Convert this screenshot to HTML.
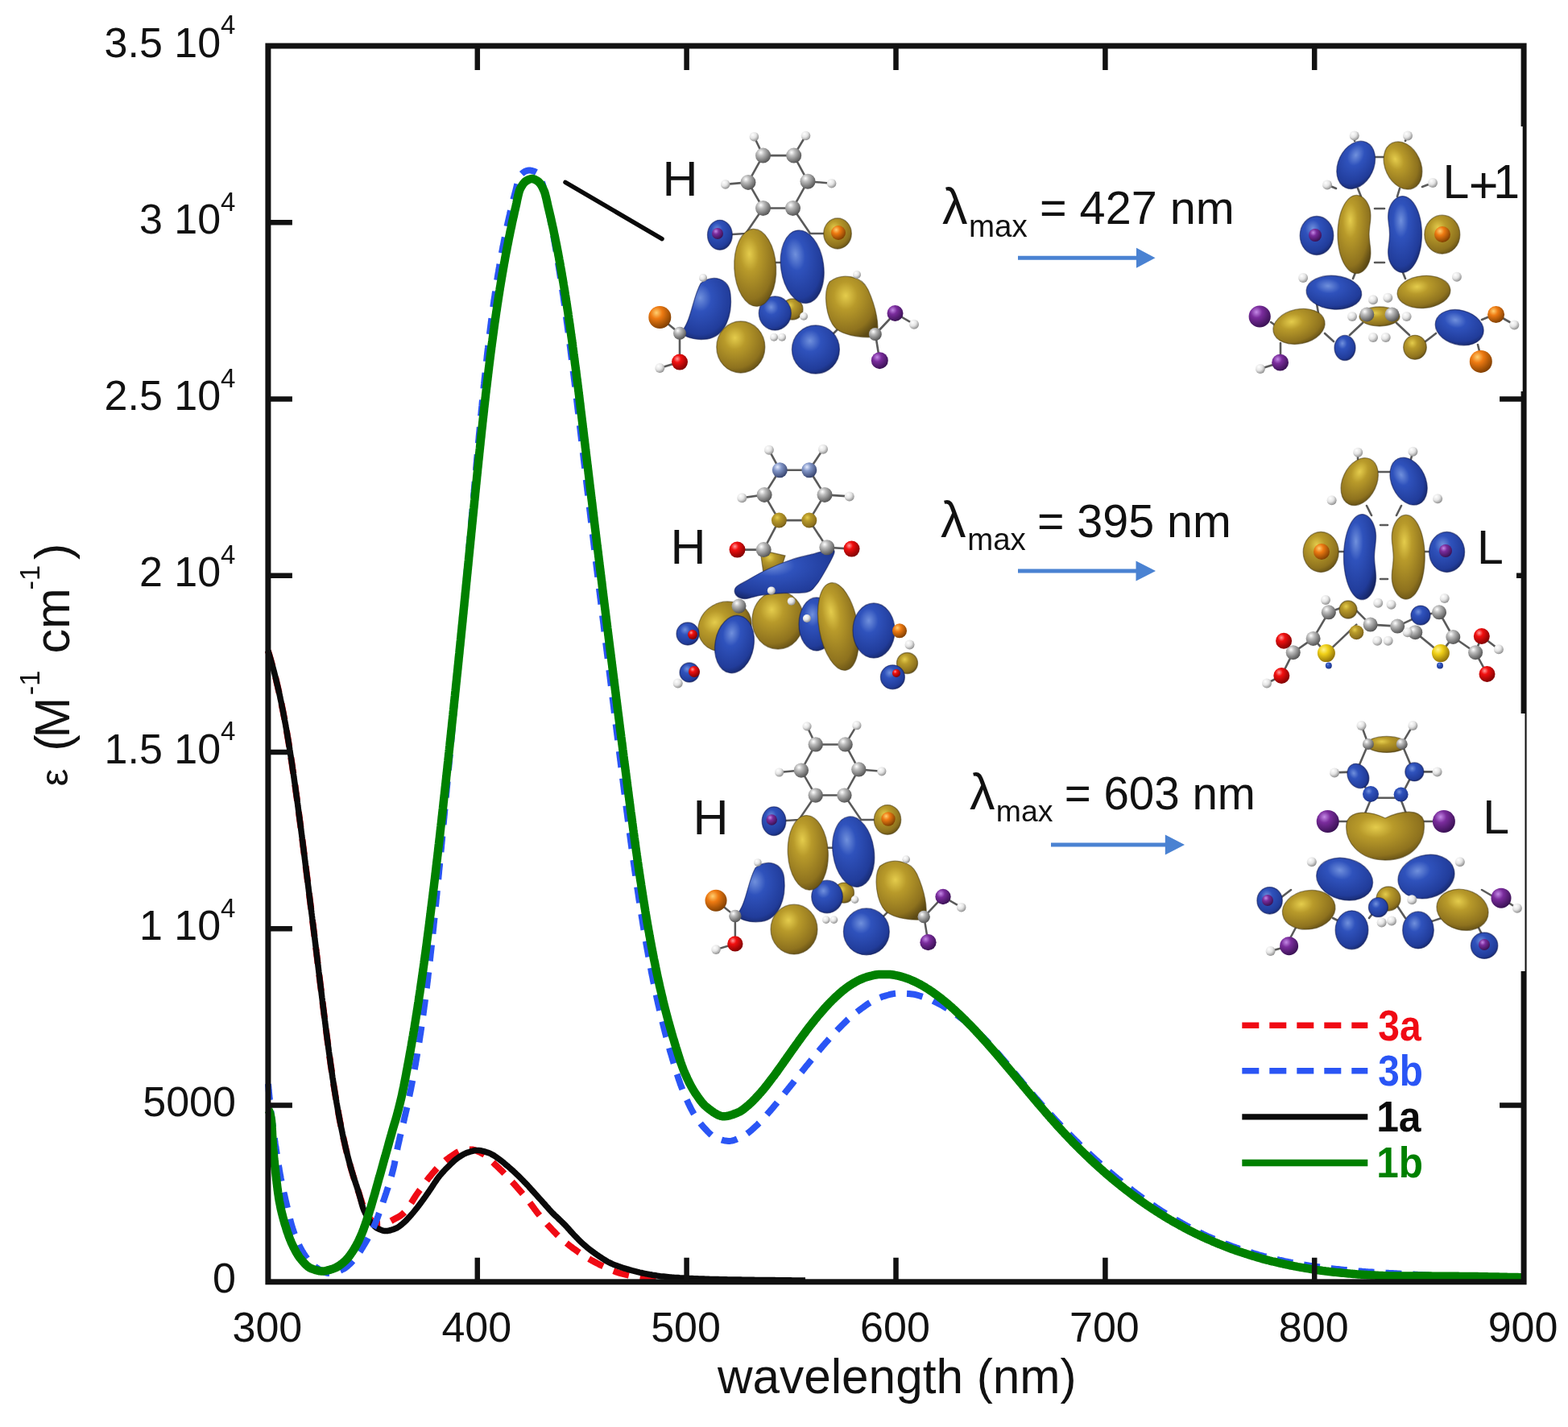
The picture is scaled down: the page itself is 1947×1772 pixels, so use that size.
<!DOCTYPE html>
<html><head><meta charset="utf-8"><title>Absorption spectra</title>
<style>html,body{margin:0;padding:0;background:#fff;overflow:hidden}svg{display:block}</style>
</head><body>
<svg xmlns="http://www.w3.org/2000/svg" width="1947" height="1772" viewBox="0 0 1947 1772"><rect x="0" y="0" width="1947" height="1772" fill="#fff"/>
<path d="M332.8,808.0 L333.4,810.0 L334.1,812.0 L334.7,814.1 L335.2,815.8 L335.8,817.9 L336.3,819.6 L336.9,821.8 L337.4,823.6 L337.9,825.4 L338.4,827.2 L339.1,829.5 L339.6,831.4 L340.1,833.3 L340.6,835.2 L341.1,837.1 L341.6,839.1 L342.1,841.1 L342.6,843.1 L343.1,845.1 L343.4,846.7 L343.9,848.7 L344.4,850.8 L344.8,852.4 L345.3,854.6 L345.8,856.8 L346.2,858.4 L346.7,860.7 L347.1,862.4 L347.6,864.7 L347.9,866.4 L348.3,868.2 L348.8,870.5 L349.2,872.3 L349.6,874.1 L349.9,875.9 L350.4,878.4 L350.8,880.3 L351.2,882.2 L351.6,884.1 L351.9,886.0 L352.3,888.0 L352.7,890.0 L353.1,891.9 L353.4,893.9 L353.8,896.0 L354.2,898.0 L354.6,900.1 L354.8,901.5 L355.2,903.6 L355.6,905.7 L355.9,907.8 L356.2,909.3 L356.6,911.5 L356.9,913.6 L357.3,915.9 L357.6,917.3 L357.9,919.6 L358.2,921.1 L358.6,923.4 L358.9,925.7 L359.2,927.2 L359.6,929.6 L359.8,931.1 L360.2,933.5 L360.4,935.1 L360.8,937.5 L361.1,939.1 L361.4,941.5 L361.7,943.2 L362.1,945.6 L362.3,947.3 L362.6,948.9 L362.9,951.4 L363.2,953.1 L363.4,954.8 L363.8,957.4 L364.1,959.1 L364.3,960.8 L364.7,963.4 L364.9,965.1 L365.2,966.8 L365.4,968.6 L365.8,971.2 L366.1,973.0 L366.3,974.7 L366.6,976.5 L366.9,979.2 L367.2,981.0 L367.4,982.8 L367.7,984.6 L367.9,986.4 L368.3,989.2 L368.6,991.0 L368.8,992.8 L369.1,994.6 L369.3,996.5 L369.6,998.3 L369.9,1001.1 L370.2,1003.0 L370.4,1004.8 L370.7,1006.7 L370.9,1008.6 L371.2,1010.5 L371.4,1012.4 L371.7,1014.2 L371.9,1016.1 L372.3,1019.0 L372.6,1020.9 L372.8,1022.8 L373.1,1024.7 L373.3,1026.6 L373.6,1028.5 L373.8,1030.4 L374.1,1032.4 L374.3,1034.3 L374.6,1036.2 L374.8,1038.1 L375.1,1040.1 L375.3,1042.0 L375.6,1044.0 L375.8,1045.9 L376.1,1047.8 L376.4,1050.8 L376.7,1052.7 L376.9,1054.7 L377.2,1056.6 L377.4,1058.6 L377.7,1060.5 L377.9,1062.5 L378.2,1064.5 L378.4,1066.4 L378.7,1068.4 L378.9,1070.4 L379.2,1072.3 L379.4,1074.3 L379.7,1076.3 L379.9,1078.3 L380.2,1080.2 L380.4,1082.2 L380.7,1084.2 L380.9,1086.2 L381.2,1088.2 L381.4,1090.2 L381.7,1092.1 L381.9,1094.1 L382.2,1096.1 L382.4,1098.1 L382.7,1100.1 L382.9,1102.1 L383.2,1104.1 L383.4,1106.1 L383.7,1108.1 L383.9,1110.1 L384.2,1112.1 L384.4,1114.1 L384.7,1116.1 L384.9,1118.1 L385.2,1120.1 L385.4,1122.1 L385.7,1124.1 L385.9,1126.1 L386.2,1128.1 L386.4,1130.1 L386.7,1132.1 L386.9,1134.1 L387.1,1135.2 L387.3,1137.2 L387.6,1139.2 L387.8,1141.2 L388.1,1143.2 L388.3,1145.2 L388.6,1147.3 L388.8,1149.3 L389.1,1151.3 L389.3,1153.3 L389.6,1155.3 L389.8,1157.4 L390.1,1159.4 L390.3,1161.4 L390.6,1163.4 L390.8,1165.5 L391.1,1167.5 L391.3,1169.5 L391.6,1171.6 L391.8,1173.6 L392.1,1175.6 L392.3,1177.7 L392.6,1179.7 L392.8,1181.7 L393.1,1183.8 L393.2,1184.8 L393.4,1186.8 L393.7,1188.9 L393.9,1190.9 L394.2,1192.9 L394.4,1195.0 L394.7,1197.0 L394.9,1199.0 L395.2,1201.1 L395.4,1203.1 L395.7,1205.2 L395.9,1207.2 L396.2,1209.2 L396.4,1211.3 L396.7,1213.3 L396.9,1215.3 L397.2,1217.4 L397.4,1219.4 L397.7,1221.4 L397.9,1223.5 L398.1,1224.5 L398.3,1226.5 L398.6,1228.5 L398.8,1230.6 L399.1,1232.6 L399.3,1234.6 L399.6,1236.7 L399.8,1238.7 L400.1,1240.7 L400.3,1242.7 L400.6,1244.8 L400.8,1246.8 L401.1,1248.8 L401.3,1250.8 L401.6,1252.8 L401.8,1254.8 L402.1,1256.8 L402.3,1258.8 L402.6,1260.8 L402.8,1262.7 L403.1,1264.7 L403.3,1266.7 L403.6,1268.7 L403.8,1270.7 L404.1,1272.6 L404.3,1274.6 L404.6,1276.6 L404.8,1278.5 L405.1,1280.5 L405.3,1282.4 L405.6,1284.3 L405.8,1286.3 L406.1,1288.2 L406.3,1290.1 L406.6,1292.0 L406.9,1294.8 L407.2,1296.7 L407.4,1298.6 L407.7,1300.4 L407.9,1302.3 L408.2,1304.2 L408.4,1306.0 L408.7,1307.9 L409.1,1310.6 L409.3,1312.5 L409.6,1314.3 L409.8,1316.1 L410.1,1317.9 L410.4,1320.6 L410.7,1322.3 L410.9,1324.1 L411.2,1325.8 L411.6,1328.4 L411.8,1330.1 L412.1,1331.8 L412.4,1334.4 L412.7,1336.1 L412.9,1337.8 L413.3,1340.3 L413.6,1341.9 L413.8,1343.6 L414.2,1346.0 L414.4,1347.6 L414.8,1350.1 L415.1,1351.7 L415.4,1354.0 L415.7,1355.6 L416.1,1357.9 L416.3,1359.4 L416.7,1361.7 L416.9,1363.2 L417.3,1365.4 L417.7,1367.7 L417.9,1369.1 L418.3,1371.3 L418.7,1373.5 L419.1,1375.6 L419.3,1377.0 L419.7,1379.1 L420.1,1381.2 L420.4,1383.2 L420.8,1385.3 L421.2,1387.3 L421.5,1389.3 L421.9,1391.2 L422.3,1393.2 L422.7,1395.1 L423.0,1397.0 L423.4,1398.9 L423.8,1400.7 L424.2,1402.6 L424.7,1405.0 L425.0,1406.7 L425.4,1408.5 L425.9,1410.8 L426.3,1412.5 L426.8,1414.8 L427.2,1416.5 L427.7,1418.7 L428.0,1420.3 L428.5,1422.5 L428.9,1424.1 L429.4,1426.2 L429.9,1428.3 L430.4,1430.3 L430.8,1431.8 L431.3,1433.8 L431.8,1435.8 L432.3,1437.7 L432.8,1439.6 L433.3,1441.5 L433.9,1443.8 L434.4,1445.7 L434.9,1447.5 L435.4,1449.3 L436.0,1451.5 L436.5,1453.2 L437.2,1455.3 L437.7,1457.0 L438.3,1459.1 L438.8,1460.7 L439.4,1462.7 L440.0,1464.7 L440.7,1466.6 L441.3,1468.5 L441.9,1470.4 L442.5,1472.3 L443.2,1474.1 L443.8,1476.0 L444.4,1477.8 L445.0,1479.7 L445.7,1481.6 L446.3,1483.6 L446.9,1485.5 L447.5,1487.5 L448.2,1489.5 L448.8,1491.5 L449.4,1493.4 L450.0,1495.2 L450.7,1496.9 L451.4,1498.9 L452.2,1500.6 L453.0,1502.6 L453.8,1504.2 L454.7,1506.0 L455.5,1507.8 L456.5,1509.6 L457.7,1511.3 L458.8,1512.8 L460.2,1514.2 L461.7,1515.8 L463.0,1517.1 L464.7,1518.3 L466.4,1519.2 L468.4,1519.5 L470.4,1519.5 L472.4,1519.4 L474.4,1519.3 L476.4,1519.1 L478.3,1519.0 L480.3,1518.5 L482.2,1517.9 L484.0,1517.0 L485.8,1516.0 L487.5,1515.0 L489.3,1514.0 L491.0,1513.1 L492.8,1512.2 L494.5,1511.2 L496.3,1510.2 L497.9,1509.1 L499.5,1507.9 L501.0,1506.6 L502.4,1505.2 L503.8,1503.6 L505.0,1502.0 L506.2,1500.5 L507.3,1498.9 L508.4,1497.2 L509.5,1495.5 L510.7,1493.7 L511.7,1492.1 L512.8,1490.3 L513.8,1488.7 L514.9,1487.0 L515.9,1485.4 L517.0,1483.7 L518.2,1482.0 L519.3,1480.5 L520.5,1478.7 L521.7,1477.2 L522.9,1475.4 L524.0,1473.9 L525.2,1472.3 L526.4,1470.6 L527.5,1469.1 L528.8,1467.4 L529.9,1465.9 L531.2,1464.3 L532.4,1462.7 L533.7,1461.2 L534.9,1459.7 L536.3,1458.0 L537.5,1456.5 L538.8,1455.1 L540.2,1453.5 L541.4,1452.1 L542.8,1450.6 L544.2,1449.2 L545.7,1447.7 L547.0,1446.4 L548.5,1445.0 L550.0,1443.7 L551.5,1442.4 L553.0,1441.1 L554.7,1439.8 L556.3,1438.6 L557.9,1437.4 L559.5,1436.3 L561.2,1435.2 L562.8,1434.1 L564.5,1432.9 L566.2,1431.8 L567.9,1430.8 L569.7,1429.9 L571.4,1429.1 L573.4,1428.6 L575.4,1428.3 L577.3,1428.0 L579.3,1427.7 L581.3,1427.5 L583.3,1427.4 L585.3,1427.4 L587.3,1427.6 L589.3,1428.1 L591.2,1428.7 L593.0,1429.5 L594.8,1430.3 L596.7,1431.3 L598.4,1432.2 L600.2,1433.1 L601.9,1434.2 L603.4,1435.3 L605.0,1436.6 L606.5,1438.0 L607.9,1439.3 L609.4,1440.8 L610.8,1442.2 L612.2,1443.5 L613.7,1445.0 L615.0,1446.3 L616.5,1447.7 L618.0,1449.1 L619.4,1450.4 L620.9,1451.9 L622.3,1453.2 L623.8,1454.7 L625.2,1456.1 L626.5,1457.5 L627.9,1458.9 L629.3,1460.3 L630.7,1461.8 L632.0,1463.3 L633.4,1464.7 L634.8,1466.3 L636.2,1467.8 L637.4,1469.2 L638.8,1470.7 L640.0,1472.1 L641.4,1473.7 L642.8,1475.3 L644.0,1476.7 L645.4,1478.3 L646.7,1479.7 L647.9,1481.2 L649.3,1482.8 L650.5,1484.3 L651.8,1485.8 L653.0,1487.3 L654.4,1489.0 L655.7,1490.6 L656.9,1492.1 L658.0,1493.6 L659.3,1495.2 L660.5,1496.9 L661.6,1498.4 L662.9,1500.1 L664.0,1501.7 L665.3,1503.3 L666.4,1504.8 L667.6,1506.4 L668.9,1508.0 L670.1,1509.5 L671.4,1511.0 L672.8,1512.7 L674.0,1514.1 L675.4,1515.7 L676.6,1517.1 L678.0,1518.6 L679.4,1520.2 L680.8,1521.7 L682.0,1523.0 L683.4,1524.5 L684.8,1526.0 L686.1,1527.5 L687.5,1528.9 L688.9,1530.3 L690.3,1531.8 L691.8,1533.3 L693.1,1534.6 L694.6,1536.1 L696.0,1537.3 L697.5,1538.7 L699.0,1540.0 L700.5,1541.3 L702.1,1542.6 L703.6,1543.8 L705.3,1545.1 L706.8,1546.3 L708.4,1547.6 L710.0,1548.8 L711.5,1549.9 L713.1,1551.1 L714.8,1552.3 L716.4,1553.4 L718.0,1554.6 L719.8,1555.8 L721.4,1556.9 L723.0,1558.0 L724.8,1559.1 L726.4,1560.1 L728.1,1561.2 L729.8,1562.2 L731.5,1563.2 L733.3,1564.3 L735.0,1565.3 L736.8,1566.2 L738.5,1567.2 L740.3,1568.1 L742.0,1569.0 L743.8,1569.9 L745.6,1570.9 L747.4,1571.7 L749.3,1572.6 L751.0,1573.4 L752.8,1574.3 L754.6,1575.1 L756.4,1575.9 L758.3,1576.8 L760.1,1577.6 L762.0,1578.3 L763.9,1579.0 L765.8,1579.7 L767.6,1580.3 L769.5,1580.8 L771.5,1581.4 L773.4,1581.9 L775.4,1582.4 L777.3,1582.9 L779.3,1583.3 L781.1,1583.7 L783.1,1584.1 L785.1,1584.5 L787.1,1584.9 L789.0,1585.3 L791.0,1585.6 L793.0,1585.9 L795.0,1586.2 L797.0,1586.4 L799.0,1586.6 L801.0,1586.7 L802.9,1586.9 L804.9,1587.1 L806.9,1587.2 L808.9,1587.4 L810.9,1587.6 L812.9,1587.7 L814.9,1587.8 L816.9,1588.0 L818.9,1588.1 L820.9,1588.2 L822.9,1588.3 L824.9,1588.5 L826.9,1588.6 L828.9,1588.7 L830.9,1588.8 L832.9,1588.9 L834.9,1588.9 L836.9,1589.0 L838.9,1589.1 L840.9,1589.2 L842.9,1589.3 L844.9,1589.3 L846.9,1589.4 L848.9,1589.5 L850.9,1589.5 L852.9,1589.6 L854.9,1589.6 L856.9,1589.7 L858.9,1589.8 L860.9,1589.8 L862.9,1589.9 L864.9,1589.9 L866.9,1590.0 L868.9,1590.0 L870.9,1590.1 L872.9,1590.1 L874.9,1590.2 L876.9,1590.2 L878.9,1590.3 L880.9,1590.3 L882.9,1590.3 L884.9,1590.4 L886.9,1590.4 L888.9,1590.4 L890.9,1590.4 L892.9,1590.5 L894.9,1590.5 L896.9,1590.5 L898.9,1590.5 L900.0,1590.5" fill="none" stroke="#f00a14" stroke-width="8" stroke-dasharray="20 14" stroke-linejoin="round"/>
<path d="M332.8,808.0 L333.4,810.0 L334.1,812.0 L334.7,814.1 L335.2,815.8 L335.8,817.9 L336.3,819.6 L336.9,821.8 L337.4,823.6 L337.9,825.4 L338.4,827.2 L339.1,829.5 L339.6,831.4 L340.1,833.3 L340.6,835.2 L341.1,837.1 L341.6,839.1 L342.1,841.1 L342.6,843.1 L343.1,845.1 L343.4,846.7 L343.9,848.7 L344.4,850.8 L344.8,852.4 L345.3,854.6 L345.8,856.8 L346.2,858.4 L346.7,860.7 L347.1,862.4 L347.6,864.7 L347.9,866.4 L348.3,868.2 L348.8,870.5 L349.2,872.3 L349.6,874.1 L349.9,875.9 L350.4,878.4 L350.8,880.3 L351.2,882.2 L351.6,884.1 L351.9,886.0 L352.3,888.0 L352.7,890.0 L353.1,891.9 L353.4,893.9 L353.8,896.0 L354.2,898.0 L354.6,900.1 L354.8,901.5 L355.2,903.6 L355.6,905.7 L355.9,907.8 L356.2,909.3 L356.6,911.5 L356.9,913.7 L357.3,915.9 L357.6,917.4 L357.9,919.6 L358.2,921.1 L358.6,923.4 L358.9,925.7 L359.2,927.2 L359.6,929.6 L359.8,931.1 L360.2,933.5 L360.4,935.1 L360.8,937.5 L361.1,939.1 L361.4,941.5 L361.7,943.2 L362.1,945.6 L362.3,947.3 L362.6,948.9 L362.9,951.4 L363.2,953.1 L363.4,954.8 L363.8,957.4 L364.1,959.1 L364.3,960.8 L364.7,963.4 L364.9,965.1 L365.2,966.8 L365.4,968.6 L365.8,971.2 L366.1,973.0 L366.3,974.8 L366.6,976.5 L366.9,979.2 L367.2,981.0 L367.4,982.8 L367.7,984.6 L367.9,986.4 L368.3,989.2 L368.6,991.0 L368.8,992.8 L369.1,994.6 L369.3,996.5 L369.6,998.3 L369.9,1001.1 L370.2,1003.0 L370.4,1004.9 L370.7,1006.7 L370.9,1008.6 L371.2,1010.5 L371.4,1012.4 L371.7,1014.3 L371.9,1016.1 L372.3,1019.0 L372.6,1020.9 L372.8,1022.8 L373.1,1024.7 L373.3,1026.6 L373.6,1028.5 L373.8,1030.4 L374.1,1032.4 L374.3,1034.3 L374.6,1036.2 L374.8,1038.1 L375.1,1040.1 L375.3,1042.0 L375.6,1044.0 L375.8,1045.9 L376.1,1047.8 L376.4,1050.8 L376.7,1052.7 L376.9,1054.7 L377.2,1056.6 L377.4,1058.6 L377.7,1060.5 L377.9,1062.5 L378.2,1064.5 L378.4,1066.4 L378.7,1068.4 L378.9,1070.4 L379.2,1072.3 L379.4,1074.3 L379.7,1076.3 L379.9,1078.3 L380.2,1080.2 L380.4,1082.2 L380.7,1084.2 L380.9,1086.2 L381.2,1088.2 L381.4,1090.2 L381.7,1092.1 L381.9,1094.1 L382.2,1096.1 L382.4,1098.1 L382.7,1100.1 L382.9,1102.1 L383.2,1104.1 L383.4,1106.1 L383.7,1108.1 L383.9,1110.1 L384.2,1112.1 L384.4,1114.1 L384.7,1116.1 L384.9,1118.1 L385.2,1120.1 L385.4,1122.1 L385.7,1124.1 L385.9,1126.1 L386.2,1128.1 L386.4,1130.1 L386.7,1132.1 L386.9,1134.2 L387.1,1135.2 L387.3,1137.2 L387.6,1139.2 L387.8,1141.2 L388.1,1143.2 L388.3,1145.2 L388.6,1147.3 L388.8,1149.3 L389.1,1151.3 L389.3,1153.3 L389.6,1155.3 L389.8,1157.4 L390.1,1159.4 L390.3,1161.4 L390.6,1163.5 L390.8,1165.5 L391.1,1167.5 L391.3,1169.5 L391.6,1171.6 L391.8,1173.6 L392.1,1175.6 L392.3,1177.7 L392.6,1179.7 L392.8,1181.7 L393.1,1183.8 L393.2,1184.8 L393.4,1186.8 L393.7,1188.9 L393.9,1190.9 L394.2,1192.9 L394.4,1195.0 L394.7,1197.0 L394.9,1199.0 L395.2,1201.1 L395.4,1203.1 L395.7,1205.2 L395.9,1207.2 L396.2,1209.2 L396.4,1211.3 L396.7,1213.3 L396.9,1215.4 L397.2,1217.4 L397.4,1219.4 L397.7,1221.5 L397.9,1223.5 L398.1,1224.5 L398.3,1226.5 L398.6,1228.6 L398.8,1230.6 L399.1,1232.6 L399.3,1234.6 L399.6,1236.7 L399.8,1238.7 L400.1,1240.7 L400.3,1242.7 L400.6,1244.8 L400.8,1246.8 L401.1,1248.8 L401.3,1250.8 L401.6,1252.8 L401.8,1254.8 L402.1,1256.8 L402.3,1258.8 L402.6,1260.8 L402.8,1262.8 L403.1,1264.7 L403.3,1266.7 L403.6,1268.7 L403.8,1270.7 L404.1,1272.6 L404.3,1274.6 L404.6,1276.6 L404.8,1278.5 L405.1,1280.5 L405.3,1282.4 L405.6,1284.3 L405.8,1286.3 L406.1,1288.2 L406.3,1290.1 L406.6,1292.0 L406.9,1294.8 L407.2,1296.7 L407.4,1298.6 L407.7,1300.5 L407.9,1302.3 L408.2,1304.2 L408.4,1306.0 L408.7,1307.9 L409.1,1310.6 L409.3,1312.5 L409.6,1314.3 L409.8,1316.1 L410.1,1317.9 L410.4,1320.6 L410.7,1322.3 L410.9,1324.1 L411.2,1325.8 L411.6,1328.4 L411.8,1330.1 L412.1,1331.8 L412.4,1334.4 L412.7,1336.1 L412.9,1337.8 L413.3,1340.3 L413.6,1341.9 L413.8,1343.6 L414.2,1346.0 L414.4,1347.7 L414.8,1350.1 L415.1,1351.7 L415.4,1354.0 L415.7,1355.6 L416.1,1357.9 L416.3,1359.4 L416.7,1361.7 L416.9,1363.2 L417.3,1365.5 L417.7,1367.7 L417.9,1369.1 L418.3,1371.3 L418.7,1373.5 L419.1,1375.6 L419.3,1377.0 L419.7,1379.1 L420.1,1381.2 L420.4,1383.3 L420.8,1385.3 L421.2,1387.3 L421.6,1389.3 L421.9,1391.2 L422.3,1393.2 L422.7,1395.1 L423.1,1397.0 L423.4,1398.9 L423.8,1400.7 L424.2,1402.6 L424.7,1405.0 L425.1,1406.8 L425.4,1408.5 L425.9,1410.8 L426.3,1412.6 L426.8,1414.8 L427.2,1416.5 L427.7,1418.7 L428.1,1420.3 L428.6,1422.5 L428.9,1424.1 L429.4,1426.2 L429.9,1428.3 L430.4,1430.3 L430.8,1431.8 L431.3,1433.8 L431.8,1435.8 L432.3,1437.7 L432.8,1439.6 L433.3,1441.5 L433.9,1443.8 L434.4,1445.7 L434.9,1447.5 L435.4,1449.3 L436.1,1451.5 L436.5,1453.2 L437.2,1455.4 L437.7,1457.0 L438.3,1459.1 L438.8,1460.7 L439.4,1462.7 L440.0,1464.6 L440.7,1466.5 L441.3,1468.3 L442.0,1470.5 L442.7,1472.4 L443.3,1474.3 L443.9,1476.2 L444.5,1478.1 L445.0,1479.7 L445.7,1481.7 L446.3,1483.9 L446.8,1485.7 L447.3,1487.6 L447.8,1489.5 L448.3,1491.4 L448.8,1493.2 L449.4,1495.5 L449.9,1497.2 L450.5,1499.2 L451.2,1501.1 L451.9,1503.0 L452.7,1504.6 L453.5,1506.4 L454.4,1508.1 L455.4,1509.9 L456.4,1511.6 L457.5,1513.3 L458.7,1514.9 L459.9,1516.6 L461.2,1518.1 L462.4,1519.7 L463.7,1521.1 L465.0,1522.6 L466.5,1523.9 L468.2,1525.1 L470.0,1526.0 L471.8,1526.8 L473.7,1527.5 L475.5,1528.1 L477.5,1528.5 L479.5,1528.6 L481.5,1528.4 L483.5,1528.0 L485.4,1527.5 L487.3,1526.9 L489.2,1526.3 L491.0,1525.5 L492.9,1524.7 L494.7,1523.6 L496.3,1522.5 L497.8,1521.3 L499.4,1520.0 L500.9,1518.7 L502.4,1517.4 L503.8,1516.0 L505.3,1514.5 L506.5,1513.1 L507.9,1511.6 L509.3,1510.1 L510.5,1508.7 L511.9,1507.1 L513.2,1505.6 L514.5,1504.0 L515.8,1502.4 L517.0,1500.9 L518.3,1499.3 L519.4,1497.8 L520.7,1496.2 L521.9,1494.5 L523.0,1493.0 L524.3,1491.3 L525.4,1489.8 L526.5,1488.2 L527.8,1486.4 L528.9,1484.8 L530.0,1483.2 L531.2,1481.6 L532.3,1479.9 L533.4,1478.3 L534.5,1476.7 L535.7,1475.0 L536.8,1473.3 L537.9,1471.5 L538.9,1470.0 L540.0,1468.3 L541.2,1466.6 L542.3,1464.9 L543.4,1463.3 L544.7,1461.7 L545.9,1460.1 L547.2,1458.6 L548.4,1457.1 L549.8,1455.6 L551.2,1454.1 L552.5,1452.6 L553.9,1451.2 L555.3,1449.8 L556.7,1448.4 L558.2,1447.0 L559.5,1445.6 L561.0,1444.2 L562.4,1442.9 L563.9,1441.5 L565.5,1440.2 L567.0,1439.0 L568.7,1437.8 L570.3,1436.7 L571.9,1435.6 L573.7,1434.4 L575.4,1433.4 L577.2,1432.6 L579.0,1431.8 L580.9,1431.1 L582.8,1430.5 L584.7,1429.8 L586.7,1429.3 L588.5,1428.8 L590.5,1428.5 L592.5,1428.4 L594.5,1428.5 L596.5,1428.7 L598.4,1429.1 L600.4,1429.6 L602.3,1430.2 L604.3,1430.8 L606.2,1431.4 L608.0,1432.1 L609.8,1432.9 L611.5,1433.9 L613.3,1434.9 L614.9,1436.0 L616.7,1437.2 L618.3,1438.4 L619.9,1439.5 L621.5,1440.7 L623.0,1441.9 L624.7,1443.2 L626.2,1444.5 L627.7,1445.8 L629.2,1447.1 L630.7,1448.3 L632.3,1449.7 L633.8,1451.0 L635.3,1452.4 L636.7,1453.6 L638.2,1455.0 L639.7,1456.3 L641.2,1457.8 L642.5,1459.1 L644.0,1460.5 L645.4,1461.9 L646.9,1463.4 L648.3,1464.8 L649.7,1466.2 L651.0,1467.6 L652.4,1469.0 L653.8,1470.5 L655.2,1471.9 L656.5,1473.4 L657.9,1475.0 L659.2,1476.3 L660.5,1477.9 L661.9,1479.4 L663.3,1480.9 L664.5,1482.3 L665.9,1483.8 L667.3,1485.4 L668.5,1486.7 L669.9,1488.3 L671.3,1489.8 L672.7,1491.3 L673.9,1492.7 L675.3,1494.2 L676.7,1495.8 L677.9,1497.2 L679.3,1498.7 L680.7,1500.3 L681.9,1501.7 L683.3,1503.2 L684.7,1504.7 L686.0,1506.1 L687.4,1507.5 L688.8,1508.9 L690.3,1510.3 L691.7,1511.6 L693.2,1513.0 L694.7,1514.5 L696.0,1515.7 L697.5,1517.2 L699.0,1518.6 L700.4,1520.0 L701.8,1521.4 L703.2,1522.9 L704.5,1524.4 L705.9,1525.9 L707.2,1527.3 L708.5,1528.9 L709.9,1530.4 L711.2,1531.8 L712.5,1533.2 L713.9,1534.7 L715.3,1536.1 L716.7,1537.5 L718.2,1539.1 L719.5,1540.4 L720.9,1541.8 L722.4,1543.2 L723.9,1544.6 L725.4,1545.9 L726.9,1547.2 L728.4,1548.5 L730.0,1549.8 L731.5,1551.0 L733.1,1552.2 L734.6,1553.4 L736.3,1554.6 L737.9,1555.8 L739.5,1556.9 L741.1,1558.1 L742.8,1559.2 L744.5,1560.4 L746.1,1561.4 L747.9,1562.6 L749.5,1563.6 L751.3,1564.7 L752.9,1565.7 L754.6,1566.7 L756.4,1567.7 L758.1,1568.5 L760.0,1569.4 L761.9,1570.2 L763.8,1570.9 L765.6,1571.6 L767.5,1572.3 L769.4,1572.9 L771.3,1573.6 L773.1,1574.2 L775.0,1574.8 L777.0,1575.4 L778.9,1576.0 L780.8,1576.5 L782.8,1577.1 L784.6,1577.6 L786.6,1578.1 L788.5,1578.6 L790.5,1579.1 L792.4,1579.6 L794.4,1580.1 L796.3,1580.5 L798.3,1581.0 L800.3,1581.4 L802.1,1581.8 L804.1,1582.1 L806.1,1582.5 L808.0,1582.8 L810.0,1583.2 L812.0,1583.5 L814.0,1583.8 L816.0,1584.1 L817.9,1584.4 L819.9,1584.7 L821.9,1584.9 L823.9,1585.1 L825.9,1585.3 L827.9,1585.5 L829.9,1585.7 L831.9,1585.9 L833.9,1586.1 L835.9,1586.2 L837.9,1586.4 L839.9,1586.5 L841.9,1586.6 L843.9,1586.8 L845.9,1586.9 L847.8,1587.0 L849.8,1587.1 L851.8,1587.2 L853.8,1587.3 L855.8,1587.4 L857.8,1587.5 L859.8,1587.6 L861.8,1587.7 L863.8,1587.7 L865.8,1587.8 L867.8,1587.9 L869.8,1588.0 L871.8,1588.1 L873.8,1588.1 L875.8,1588.2 L877.8,1588.3 L879.8,1588.3 L881.8,1588.4 L883.8,1588.4 L885.8,1588.5 L887.8,1588.5 L889.8,1588.6 L891.8,1588.6 L893.8,1588.7 L895.8,1588.7 L897.8,1588.8 L899.8,1588.8 L901.8,1588.8 L903.8,1588.9 L905.8,1588.9 L907.8,1588.9 L909.8,1589.0 L911.8,1589.0 L913.8,1589.0 L915.8,1589.1 L917.8,1589.1 L919.8,1589.1 L921.8,1589.2 L923.8,1589.2 L925.8,1589.2 L927.8,1589.2 L929.8,1589.3 L931.8,1589.3 L933.8,1589.3 L935.8,1589.3 L937.8,1589.4 L939.8,1589.4 L941.8,1589.4 L943.8,1589.4 L945.8,1589.4 L947.8,1589.5 L949.8,1589.5 L951.8,1589.5 L953.8,1589.5 L955.8,1589.6 L957.8,1589.6 L959.8,1589.6 L961.8,1589.6 L963.8,1589.7 L965.8,1589.7 L967.8,1589.7 L969.8,1589.7 L971.8,1589.7 L973.8,1589.8 L975.8,1589.8 L977.8,1589.8 L979.8,1589.8 L981.8,1589.8 L983.8,1589.9 L985.8,1589.9 L987.8,1589.9 L989.8,1589.9 L991.8,1589.9 L993.8,1589.9 L995.8,1590.0 L997.8,1590.0 L999.8,1590.0 L1000.0,1590.0" fill="none" stroke="#0a0a0a" stroke-width="7.5" stroke-linejoin="round"/>
<path d="M333.0,1346.0 L333.2,1348.7 L333.4,1350.0 L333.6,1352.7 L333.7,1354.0 L334.0,1356.6 L334.2,1359.2 L334.4,1360.5 L334.6,1363.0 L334.7,1364.3 L335.0,1366.7 L335.1,1368.0 L335.4,1370.4 L335.6,1372.7 L335.7,1373.9 L336.0,1376.2 L336.2,1378.5 L336.5,1380.7 L336.7,1382.9 L336.9,1383.9 L337.1,1386.0 L337.4,1388.1 L337.6,1390.1 L337.9,1392.1 L338.1,1394.0 L338.4,1395.9 L338.6,1397.8 L339.0,1400.6 L339.2,1402.4 L339.5,1404.2 L339.7,1406.0 L340.0,1407.7 L340.4,1410.3 L340.6,1412.0 L340.9,1413.7 L341.2,1416.3 L341.5,1418.0 L341.7,1419.6 L342.1,1422.2 L342.4,1423.8 L342.6,1425.5 L343.0,1428.0 L343.2,1429.7 L343.5,1431.3 L343.9,1433.8 L344.1,1435.5 L344.5,1437.9 L344.7,1439.5 L345.1,1442.0 L345.4,1443.5 L345.7,1445.9 L346.0,1447.4 L346.4,1449.7 L346.6,1451.2 L347.0,1453.4 L347.4,1455.6 L347.7,1457.6 L348.0,1459.0 L348.4,1461.0 L348.7,1462.9 L349.2,1465.5 L349.6,1467.4 L350.0,1469.2 L350.4,1471.0 L350.7,1472.8 L351.2,1475.2 L351.6,1476.9 L352.0,1478.6 L352.5,1480.9 L352.9,1482.5 L353.4,1484.7 L353.9,1486.9 L354.2,1488.5 L354.7,1490.7 L355.1,1492.3 L355.6,1494.4 L356.1,1496.5 L356.5,1498.1 L357.0,1500.3 L357.5,1502.4 L357.9,1504.0 L358.4,1506.2 L358.9,1508.3 L359.2,1509.9 L359.7,1511.9 L360.2,1514.0 L360.7,1516.0 L361.2,1517.9 L361.7,1519.8 L362.2,1521.6 L362.7,1523.3 L363.4,1525.4 L364.0,1527.3 L364.6,1529.1 L365.2,1530.9 L366.0,1533.0 L366.6,1534.7 L367.4,1536.7 L368.1,1538.6 L368.9,1540.4 L369.6,1542.2 L370.4,1543.9 L371.2,1545.8 L372.1,1547.7 L373.0,1549.4 L374.0,1551.3 L375.0,1553.0 L376.0,1554.6 L377.0,1556.3 L378.1,1558.0 L379.2,1559.7 L380.4,1561.4 L381.5,1563.0 L382.7,1564.6 L384.0,1566.2 L385.2,1567.6 L386.6,1569.1 L388.0,1570.4 L389.6,1571.7 L391.2,1572.9 L392.9,1574.0 L394.5,1575.1 L396.2,1576.3 L397.9,1577.2 L399.6,1578.2 L401.5,1579.2 L403.2,1579.9 L405.2,1580.5 L407.1,1580.9 L409.1,1581.0 L411.1,1580.9 L413.1,1580.6 L415.1,1580.2 L417.0,1579.6 L418.9,1579.0 L420.7,1578.3 L422.6,1577.5 L424.5,1576.7 L426.2,1575.9 L428.0,1574.9 L429.7,1573.7 L431.2,1572.6 L432.7,1571.2 L434.2,1569.8 L435.6,1568.4 L437.0,1566.9 L438.2,1565.5 L439.6,1563.9 L440.9,1562.4 L442.2,1560.8 L443.5,1559.3 L444.6,1557.8 L445.7,1556.1 L446.9,1554.4 L448.0,1552.6 L449.0,1551.0 L450.0,1549.4 L451.1,1547.5 L452.1,1545.9 L453.1,1544.2 L454.2,1542.4 L455.2,1540.6 L456.2,1538.9 L457.2,1537.1 L458.1,1535.5 L459.1,1533.6 L460.0,1532.0 L460.9,1530.2 L461.9,1528.2 L462.6,1526.6 L463.5,1524.8 L464.4,1522.8 L465.1,1521.1 L465.9,1519.3 L466.6,1517.5 L467.4,1515.6 L468.1,1513.7 L468.9,1511.7 L469.6,1509.7 L470.2,1508.0 L471.0,1506.0 L471.6,1504.2 L472.2,1502.5 L473.0,1500.4 L473.6,1498.6 L474.2,1496.8 L474.9,1494.9 L475.6,1492.7 L476.2,1490.9 L476.9,1489.1 L477.5,1487.2 L478.1,1485.4 L478.7,1483.5 L479.4,1481.7 L480.1,1479.4 L480.7,1477.6 L481.4,1475.7 L482.0,1473.8 L482.6,1471.8 L483.1,1470.2 L483.7,1468.2 L484.4,1466.2 L484.9,1464.5 L485.5,1462.3 L486.0,1460.6 L486.5,1458.8 L487.1,1456.4 L487.6,1454.5 L488.1,1452.6 L488.5,1451.0 L489.0,1448.8 L489.4,1447.1 L489.9,1444.7 L490.2,1442.9 L490.6,1441.0 L491.0,1439.1 L491.4,1437.2 L491.7,1435.2 L492.1,1433.3 L492.5,1431.4 L492.9,1429.4 L493.4,1426.9 L493.7,1425.0 L494.1,1423.2 L494.5,1421.4 L495.0,1419.2 L495.4,1417.5 L495.9,1415.3 L496.2,1413.6 L496.7,1411.5 L497.1,1409.9 L497.6,1407.8 L498.1,1405.7 L498.6,1403.6 L499.0,1402.0 L499.5,1400.0 L500.0,1397.9 L500.4,1396.3 L500.9,1394.2 L501.4,1392.1 L501.9,1390.0 L502.2,1388.4 L502.7,1386.3 L503.2,1384.2 L503.6,1382.6 L504.1,1380.4 L504.5,1378.8 L505.0,1376.5 L505.4,1374.9 L505.9,1372.6 L506.2,1370.9 L506.7,1368.6 L507.1,1366.8 L507.5,1365.1 L508.0,1362.8 L508.4,1361.0 L508.7,1359.2 L509.2,1356.8 L509.6,1354.9 L510.0,1353.1 L510.4,1351.2 L510.7,1349.4 L511.1,1347.5 L511.6,1344.9 L512.0,1343.0 L512.4,1341.0 L512.7,1339.1 L513.1,1337.1 L513.5,1335.1 L513.7,1333.7 L514.1,1331.7 L514.5,1329.6 L514.9,1327.5 L515.2,1325.4 L515.6,1323.3 L515.9,1321.9 L516.2,1319.8 L516.6,1317.6 L517.0,1315.4 L517.2,1314.0 L517.6,1311.8 L518.0,1309.5 L518.2,1308.0 L518.6,1305.8 L519.0,1303.5 L519.2,1301.9 L519.6,1299.6 L519.9,1298.0 L520.2,1295.6 L520.5,1294.1 L520.9,1291.6 L521.1,1290.0 L521.5,1287.6 L521.7,1285.9 L522.0,1284.3 L522.4,1281.8 L522.6,1280.1 L522.9,1278.4 L523.2,1275.9 L523.5,1274.1 L523.7,1272.4 L524.1,1269.8 L524.4,1268.0 L524.6,1266.3 L524.9,1264.5 L525.2,1261.8 L525.5,1260.0 L525.7,1258.2 L526.0,1256.3 L526.2,1254.5 L526.5,1252.6 L526.7,1250.8 L527.1,1248.0 L527.4,1246.1 L527.6,1244.2 L527.9,1242.2 L528.1,1240.3 L528.4,1238.4 L528.6,1236.4 L528.9,1234.5 L529.1,1232.5 L529.4,1230.5 L529.6,1228.5 L529.9,1226.5 L530.1,1224.4 L530.4,1222.4 L530.6,1220.3 L530.9,1218.3 L531.1,1216.2 L531.4,1214.1 L531.5,1213.0 L531.7,1210.9 L532.0,1208.8 L532.2,1206.7 L532.5,1204.5 L532.7,1202.4 L533.0,1200.2 L533.1,1199.2 L533.4,1197.0 L533.6,1194.8 L533.9,1192.6 L534.1,1190.4 L534.4,1188.1 L534.5,1187.0 L534.7,1184.7 L535.0,1182.5 L535.2,1180.2 L535.4,1179.1 L535.6,1176.8 L535.9,1174.5 L536.0,1173.3 L536.2,1171.0 L536.5,1168.6 L536.7,1166.3 L536.9,1165.1 L537.1,1162.8 L537.4,1160.4 L537.5,1159.3 L537.7,1156.9 L538.0,1154.5 L538.1,1153.3 L538.4,1150.9 L538.6,1148.5 L538.7,1147.3 L539.0,1144.8 L539.2,1142.4 L539.4,1141.2 L539.6,1138.7 L539.7,1137.5 L540.0,1135.0 L540.2,1132.5 L540.4,1131.3 L540.6,1128.8 L540.7,1127.5 L541.0,1125.0 L541.2,1122.5 L541.4,1121.3 L541.6,1118.8 L541.7,1117.5 L542.0,1115.0 L542.2,1112.4 L542.4,1111.1 L542.6,1108.6 L542.7,1107.3 L543.0,1104.7 L543.1,1103.5 L543.4,1100.9 L543.5,1099.6 L543.7,1097.0 L544.0,1094.4 L544.1,1093.1 L544.4,1090.5 L544.5,1089.2 L544.7,1086.6 L544.9,1085.3 L545.1,1082.7 L545.2,1081.4 L545.5,1078.8 L545.6,1077.5 L545.9,1074.9 L546.0,1073.5 L546.2,1070.9 L546.4,1069.6 L546.6,1067.0 L546.7,1065.6 L547.0,1063.0 L547.1,1061.7 L547.4,1059.0 L547.5,1057.7 L547.7,1055.0 L547.9,1053.7 L548.1,1051.1 L548.2,1049.7 L548.5,1047.1 L548.6,1045.7 L548.9,1043.1 L549.0,1041.7 L549.2,1039.0 L549.4,1037.7 L549.6,1035.0 L549.7,1033.7 L550.0,1031.0 L550.1,1029.7 L550.4,1027.0 L550.5,1025.7 L550.7,1023.0 L550.9,1021.6 L551.1,1019.0 L551.2,1017.6 L551.5,1014.9 L551.6,1013.6 L551.9,1010.9 L552.0,1009.5 L552.2,1006.9 L552.4,1005.5 L552.6,1002.8 L552.7,1001.5 L552.9,1000.1 L553.1,997.4 L553.2,996.1 L553.5,993.4 L553.6,992.0 L553.9,989.3 L554.0,988.0 L554.2,985.3 L554.4,984.0 L554.6,981.3 L554.7,979.9 L555.0,977.2 L555.1,975.9 L555.4,973.2 L555.5,971.8 L555.7,969.1 L555.9,967.8 L556.1,965.1 L556.2,963.7 L556.5,961.0 L556.6,959.7 L556.9,957.0 L557.0,955.7 L557.1,954.3 L557.4,951.6 L557.5,950.3 L557.7,947.6 L557.9,946.2 L558.1,943.5 L558.2,942.2 L558.5,939.5 L558.6,938.2 L558.9,935.5 L559.0,934.1 L559.2,931.4 L559.4,930.1 L559.6,927.4 L559.7,926.0 L560.0,923.3 L560.1,922.0 L560.4,919.3 L560.5,918.0 L560.7,915.3 L560.9,913.9 L561.1,911.2 L561.2,909.9 L561.5,907.2 L561.6,905.9 L561.7,904.5 L562.0,901.8 L562.1,900.5 L562.4,897.8 L562.5,896.5 L562.7,893.8 L562.9,892.4 L563.1,889.7 L563.2,888.4 L563.5,885.7 L563.6,884.4 L563.9,881.7 L564.0,880.3 L564.2,877.6 L564.4,876.3 L564.6,873.6 L564.7,872.3 L565.0,869.6 L565.1,868.2 L565.4,865.5 L565.5,864.2 L565.7,861.5 L565.9,860.2 L566.1,857.5 L566.2,856.1 L566.5,853.4 L566.6,852.1 L566.7,850.7 L567.0,848.0 L567.1,846.7 L567.4,844.0 L567.5,842.7 L567.7,840.0 L567.9,838.6 L568.1,835.9 L568.2,834.6 L568.5,831.9 L568.6,830.5 L568.9,827.8 L569.0,826.5 L569.2,823.8 L569.4,822.4 L569.6,819.7 L569.7,818.4 L570.0,815.7 L570.1,814.3 L570.4,811.6 L570.5,810.3 L570.6,808.9 L570.9,806.2 L571.0,804.9 L571.2,802.2 L571.4,800.8 L571.6,798.1 L571.7,796.7 L572.0,794.0 L572.1,792.7 L572.4,790.0 L572.5,788.6 L572.7,785.9 L572.9,784.5 L573.1,781.8 L573.2,780.5 L573.4,779.1 L573.6,776.4 L573.7,775.0 L574.0,772.3 L574.1,770.9 L574.4,768.2 L574.5,766.8 L574.7,764.1 L574.9,762.7 L575.1,760.0 L575.2,758.6 L575.5,755.9 L575.6,754.5 L575.7,753.1 L576.0,750.4 L576.1,749.0 L576.4,746.3 L576.5,744.9 L576.7,742.2 L576.9,740.8 L577.1,738.0 L577.2,736.7 L577.5,733.9 L577.6,732.5 L577.7,731.2 L578.0,728.4 L578.1,727.0 L578.4,724.3 L578.5,722.9 L578.7,720.1 L578.9,718.7 L579.0,717.3 L579.2,714.6 L579.4,713.2 L579.6,710.4 L579.7,709.0 L580.0,706.3 L580.1,704.9 L580.4,702.1 L580.5,700.7 L580.6,699.3 L580.9,696.5 L581.0,695.1 L581.2,692.3 L581.4,690.9 L581.6,688.2 L581.7,686.8 L581.9,685.4 L582.1,682.6 L582.2,681.2 L582.5,678.4 L582.6,677.0 L582.9,674.2 L583.0,672.8 L583.1,671.4 L583.4,668.6 L583.5,667.2 L583.7,664.4 L583.9,663.0 L584.0,661.6 L584.2,658.8 L584.4,657.3 L584.6,654.5 L584.7,653.1 L585.0,650.3 L585.1,648.9 L585.2,647.5 L585.5,644.7 L585.6,643.3 L585.9,640.5 L586.0,639.1 L586.1,637.7 L586.4,634.8 L586.5,633.4 L586.7,630.6 L586.9,629.2 L587.1,626.4 L587.2,625.0 L587.4,623.6 L587.6,620.8 L587.7,619.4 L588.0,616.6 L588.1,615.2 L588.2,613.8 L588.5,610.9 L588.6,609.5 L588.9,606.7 L589.0,605.3 L589.2,602.5 L589.4,601.1 L589.5,599.7 L589.7,596.9 L589.9,595.5 L590.1,592.7 L590.2,591.3 L590.5,588.5 L590.6,587.1 L590.7,585.7 L591.0,582.9 L591.1,581.6 L591.4,578.8 L591.5,577.4 L591.7,574.6 L591.9,573.2 L592.0,571.8 L592.2,569.1 L592.4,567.7 L592.6,564.9 L592.7,563.5 L593.0,560.8 L593.1,559.4 L593.4,556.7 L593.5,555.3 L593.6,553.9 L593.9,551.2 L594.0,549.9 L594.2,547.1 L594.4,545.8 L594.6,543.1 L594.7,541.7 L595.0,539.0 L595.1,537.7 L595.4,535.0 L595.5,533.6 L595.7,531.0 L595.9,529.6 L596.1,527.0 L596.2,525.6 L596.5,523.0 L596.6,521.7 L596.9,519.0 L597.0,517.7 L597.2,515.1 L597.4,513.8 L597.6,511.2 L597.7,509.9 L598.0,507.3 L598.1,506.0 L598.4,503.4 L598.5,502.2 L598.7,499.6 L599.0,497.1 L599.1,495.8 L599.4,493.3 L599.5,492.0 L599.7,489.5 L599.9,488.3 L600.1,485.8 L600.4,483.3 L600.5,482.1 L600.7,479.6 L601.0,477.2 L601.1,476.0 L601.4,473.5 L601.5,472.3 L601.7,469.9 L602.0,467.5 L602.1,466.3 L602.4,464.0 L602.6,461.6 L602.7,460.4 L603.0,458.1 L603.2,455.8 L603.5,453.5 L603.6,452.3 L603.9,450.0 L604.1,447.8 L604.4,445.5 L604.5,444.4 L604.7,442.1 L605.0,439.9 L605.2,437.7 L605.5,435.5 L605.6,434.4 L605.9,432.2 L606.1,430.1 L606.4,427.9 L606.6,425.8 L606.9,423.7 L607.0,422.6 L607.2,420.6 L607.5,418.5 L607.7,416.4 L608.0,414.4 L608.2,412.3 L608.5,410.3 L608.7,408.3 L609.0,406.3 L609.2,404.3 L609.5,402.3 L609.7,400.4 L610.0,398.4 L610.2,396.5 L610.5,394.6 L610.7,392.7 L611.0,390.8 L611.2,388.9 L611.6,386.1 L611.9,384.3 L612.1,382.5 L612.4,380.6 L612.6,378.8 L612.9,377.0 L613.2,374.4 L613.5,372.6 L613.7,370.9 L614.0,369.1 L614.4,366.6 L614.6,364.8 L614.9,363.2 L615.2,360.7 L615.5,359.0 L615.9,356.5 L616.1,354.9 L616.4,353.3 L616.7,350.9 L617.0,349.3 L617.4,346.9 L617.6,345.3 L618.0,343.0 L618.2,341.5 L618.6,339.2 L619.0,336.9 L619.2,335.4 L619.6,333.1 L620.0,330.9 L620.2,329.5 L620.6,327.3 L621.0,325.1 L621.4,323.0 L621.6,321.6 L622.0,319.5 L622.4,317.4 L622.7,315.4 L623.1,313.3 L623.5,311.3 L623.9,309.3 L624.2,307.3 L624.5,306.0 L625.0,303.4 L625.4,301.5 L625.7,299.6 L626.1,297.7 L626.5,295.8 L626.9,294.0 L627.2,292.1 L627.6,290.3 L628.1,287.9 L628.5,286.1 L628.9,284.3 L629.4,282.0 L629.7,280.3 L630.1,278.6 L630.6,276.3 L631.0,274.6 L631.5,272.4 L631.9,270.7 L632.4,268.5 L632.9,266.3 L633.2,264.7 L633.7,262.6 L634.1,261.0 L634.6,258.9 L635.1,256.8 L635.6,254.8 L636.0,253.2 L636.5,251.2 L637.0,249.2 L637.5,247.3 L638.0,245.3 L638.5,243.4 L639.0,241.5 L639.5,239.6 L640.0,237.7 L640.5,235.8 L641.0,233.8 L641.5,231.6 L642.0,229.4 L642.4,227.8 L642.9,225.7 L643.4,223.7 L643.9,221.9 L644.5,220.0 L645.2,218.4 L646.6,216.9 L648.0,215.6 L649.6,214.3 L651.2,213.2 L653.0,212.4 L655.0,211.7 L656.8,211.5 L658.8,211.6 L660.8,212.0 L662.7,212.6 L664.6,213.3 L666.5,214.3 L667.8,215.7 L669.0,217.4 L670.0,219.2 L670.7,220.8 L671.6,222.8 L672.3,224.7 L673.1,226.6 L673.7,228.3 L674.3,230.2 L674.8,232.1 L675.3,234.2 L675.8,236.5 L676.2,238.2 L676.6,240.1 L677.0,241.9 L677.5,244.4 L677.8,246.3 L678.2,248.1 L678.6,249.9 L679.1,252.2 L679.5,253.9 L679.8,255.7 L680.3,258.1 L680.7,259.9 L681.1,261.7 L681.5,263.5 L682.0,265.9 L682.3,267.8 L682.7,269.7 L683.1,271.5 L683.5,273.4 L683.8,275.3 L684.2,277.3 L684.6,279.2 L685.0,281.1 L685.3,283.1 L685.7,285.1 L686.1,287.1 L686.5,289.1 L686.8,291.1 L687.2,293.1 L687.6,295.2 L688.0,297.3 L688.3,299.3 L688.6,300.7 L689.0,302.8 L689.3,305.0 L689.7,307.1 L690.1,309.3 L690.3,310.7 L690.7,312.9 L691.1,315.1 L691.3,316.6 L691.7,318.8 L692.1,321.0 L692.3,322.6 L692.7,324.8 L693.0,326.3 L693.3,328.6 L693.7,330.9 L694.0,332.5 L694.3,334.8 L694.6,336.4 L695.0,338.8 L695.2,340.4 L695.6,342.8 L695.8,344.4 L696.2,346.8 L696.5,348.4 L696.7,350.1 L697.1,352.5 L697.3,354.2 L697.7,356.7 L698.0,358.4 L698.2,360.0 L698.6,362.5 L698.8,364.2 L699.1,365.9 L699.5,368.5 L699.7,370.2 L700.0,372.0 L700.3,374.6 L700.6,376.3 L700.8,378.1 L701.1,379.9 L701.5,382.5 L701.7,384.3 L702.0,386.1 L702.2,387.9 L702.5,389.7 L702.8,392.4 L703.1,394.2 L703.3,396.0 L703.6,397.9 L703.8,399.7 L704.1,401.6 L704.5,404.4 L704.7,406.2 L705.0,408.1 L705.2,410.0 L705.5,411.9 L705.7,413.8 L706.0,415.6 L706.2,417.5 L706.5,419.5 L706.7,421.4 L707.1,424.2 L707.3,426.2 L707.6,428.1 L707.8,430.0 L708.1,432.0 L708.3,433.9 L708.6,435.9 L708.8,437.9 L709.1,439.8 L709.3,441.8 L709.6,443.8 L709.8,445.8 L710.1,447.8 L710.3,449.8 L710.6,451.8 L710.8,453.8 L711.1,455.8 L711.3,457.8 L711.6,459.8 L711.8,461.8 L712.1,463.8 L712.3,465.8 L712.6,467.9 L712.8,469.9 L713.1,472.0 L713.2,473.0 L713.5,475.0 L713.7,477.1 L714.0,479.1 L714.2,481.2 L714.5,483.3 L714.7,485.3 L715.0,487.4 L715.2,489.5 L715.5,491.5 L715.7,493.6 L716.0,495.7 L716.2,497.7 L716.3,498.8 L716.6,500.9 L716.8,503.0 L717.1,505.1 L717.3,507.1 L717.6,509.2 L717.8,511.3 L718.1,513.4 L718.3,515.5 L718.6,517.6 L718.7,518.7 L719.0,520.8 L719.2,522.9 L719.5,525.0 L719.7,527.1 L720.0,529.2 L720.2,531.3 L720.5,533.4 L720.7,535.5 L720.8,536.6 L721.1,538.7 L721.3,540.8 L721.6,542.9 L721.8,545.1 L722.1,547.2 L722.3,549.3 L722.6,551.4 L722.7,552.5 L723.0,554.6 L723.2,556.7 L723.5,558.8 L723.7,561.0 L724.0,563.1 L724.2,565.2 L724.5,567.3 L724.6,568.4 L724.8,570.5 L725.1,572.6 L725.3,574.7 L725.6,576.9 L725.8,579.0 L726.1,581.1 L726.2,582.2 L726.5,584.3 L726.7,586.4 L727.0,588.5 L727.2,590.6 L727.5,592.8 L727.7,594.9 L728.0,597.0 L728.2,599.1 L728.3,600.2 L728.6,602.3 L728.8,604.4 L729.1,606.5 L729.3,608.6 L729.6,610.7 L729.8,612.8 L730.1,615.0 L730.2,616.0 L730.5,618.1 L730.7,620.2 L731.0,622.3 L731.2,624.4 L731.5,626.6 L731.7,628.7 L732.0,630.8 L732.1,631.8 L732.3,633.9 L732.6,636.0 L732.8,638.1 L733.1,640.2 L733.3,642.3 L733.6,644.4 L733.8,646.5 L734.1,648.6 L734.3,650.7 L734.5,651.8 L734.7,653.9 L735.0,656.0 L735.2,658.0 L735.5,660.1 L735.7,662.2 L736.0,664.3 L736.2,666.4 L736.5,668.5 L736.7,670.6 L736.8,671.6 L737.1,673.7 L737.3,675.8 L737.6,677.9 L737.8,680.0 L738.1,682.0 L738.3,684.1 L738.6,686.2 L738.8,688.3 L739.1,690.4 L739.2,691.4 L739.5,693.5 L739.7,695.5 L740.0,697.6 L740.2,699.7 L740.5,701.8 L740.7,703.8 L741.0,705.9 L741.2,708.0 L741.5,710.0 L741.7,712.1 L742.0,714.2 L742.2,716.2 L742.3,717.3 L742.6,719.3 L742.8,721.4 L743.1,723.5 L743.3,725.5 L743.6,727.6 L743.8,729.6 L744.1,731.7 L744.3,733.8 L744.6,735.8 L744.8,737.9 L745.1,739.9 L745.3,742.0 L745.6,744.0 L745.7,745.1 L746.0,747.1 L746.2,749.2 L746.5,751.2 L746.7,753.3 L747.0,755.3 L747.2,757.4 L747.5,759.4 L747.7,761.5 L748.0,763.5 L748.2,765.6 L748.5,767.6 L748.7,769.7 L749.0,771.7 L749.2,773.7 L749.5,775.8 L749.6,776.8 L749.8,778.9 L750.1,780.9 L750.3,782.9 L750.6,785.0 L750.8,787.0 L751.1,789.1 L751.3,791.1 L751.6,793.1 L751.8,795.2 L752.1,797.2 L752.3,799.3 L752.6,801.3 L752.8,803.3 L753.1,805.4 L753.3,807.4 L753.6,809.4 L753.8,811.5 L754.0,812.5 L754.2,814.5 L754.5,816.6 L754.7,818.6 L755.0,820.6 L755.2,822.7 L755.5,824.7 L755.7,826.7 L756.0,828.8 L756.2,830.8 L756.5,832.8 L756.7,834.9 L757.0,836.9 L757.2,838.9 L757.5,841.0 L757.7,843.0 L758.0,845.0 L758.2,847.1 L758.5,849.1 L758.7,851.1 L759.0,853.1 L759.2,855.2 L759.3,856.2 L759.6,858.2 L759.8,860.2 L760.1,862.3 L760.3,864.3 L760.6,866.3 L760.8,868.4 L761.1,870.4 L761.3,872.4 L761.6,874.4 L761.8,876.5 L762.1,878.5 L762.3,880.5 L762.6,882.5 L762.8,884.5 L763.1,886.6 L763.3,888.6 L763.6,890.6 L763.8,892.6 L764.1,894.6 L764.3,896.7 L764.6,898.7 L764.8,900.7 L765.1,902.7 L765.3,904.7 L765.6,906.8 L765.8,908.8 L766.0,909.8 L766.2,911.8 L766.5,913.8 L766.7,915.8 L767.0,917.8 L767.2,919.8 L767.5,921.8 L767.7,923.9 L768.0,925.9 L768.2,927.9 L768.5,929.9 L768.7,931.9 L769.0,933.9 L769.2,935.9 L769.5,937.9 L769.7,939.9 L770.0,941.9 L770.2,943.9 L770.5,945.9 L770.7,947.9 L771.0,949.9 L771.2,951.9 L771.5,953.8 L771.7,955.8 L772.0,957.8 L772.2,959.8 L772.5,961.8 L772.7,963.8 L773.0,965.8 L773.2,967.7 L773.5,969.7 L773.7,971.7 L774.0,973.7 L774.2,975.6 L774.5,977.6 L774.7,979.6 L775.0,981.5 L775.2,983.5 L775.5,985.5 L775.7,987.4 L776.0,989.4 L776.2,991.3 L776.5,993.3 L776.7,995.2 L777.0,997.1 L777.2,999.1 L777.6,1002.0 L777.8,1003.9 L778.1,1005.9 L778.3,1007.8 L778.6,1009.7 L778.8,1011.7 L779.1,1013.6 L779.3,1015.5 L779.6,1017.4 L779.8,1019.3 L780.1,1021.2 L780.3,1023.1 L780.6,1025.0 L780.8,1026.9 L781.1,1028.8 L781.5,1031.6 L781.7,1033.5 L782.0,1035.4 L782.2,1037.3 L782.5,1039.2 L782.7,1041.0 L783.0,1042.9 L783.2,1044.8 L783.6,1047.5 L783.8,1049.4 L784.1,1051.2 L784.3,1053.1 L784.6,1054.9 L784.8,1056.7 L785.1,1058.6 L785.5,1061.3 L785.7,1063.1 L786.0,1064.9 L786.2,1066.7 L786.5,1068.5 L786.8,1071.2 L787.1,1073.0 L787.3,1074.8 L787.6,1076.6 L787.8,1078.3 L788.2,1081.0 L788.5,1082.8 L788.7,1084.5 L789.0,1086.3 L789.3,1088.9 L789.6,1090.6 L789.8,1092.3 L790.2,1094.9 L790.5,1096.6 L790.7,1098.4 L791.1,1100.9 L791.3,1102.6 L791.6,1104.3 L792.0,1106.8 L792.2,1108.5 L792.5,1110.2 L792.8,1112.7 L793.1,1114.4 L793.3,1116.0 L793.7,1118.5 L794.0,1120.1 L794.3,1122.6 L794.6,1124.2 L795.0,1126.6 L795.2,1128.2 L795.5,1129.8 L795.8,1132.2 L796.1,1133.8 L796.5,1136.1 L796.7,1137.7 L797.1,1140.1 L797.5,1142.4 L797.7,1143.9 L798.1,1146.3 L798.3,1147.8 L798.7,1150.1 L799.0,1151.6 L799.3,1153.9 L799.7,1156.1 L800.0,1157.6 L800.3,1159.8 L800.7,1162.0 L801.0,1163.5 L801.3,1165.7 L801.7,1167.9 L802.0,1169.3 L802.3,1171.5 L802.7,1173.6 L803.1,1175.7 L803.3,1177.1 L803.7,1179.2 L804.1,1181.3 L804.5,1183.4 L804.8,1185.5 L805.2,1187.5 L805.6,1189.6 L805.8,1190.9 L806.2,1192.9 L806.6,1194.9 L807.0,1196.9 L807.3,1198.9 L807.7,1200.9 L808.1,1202.8 L808.5,1204.8 L808.8,1206.7 L809.2,1208.6 L809.7,1211.2 L810.1,1213.0 L810.5,1214.9 L810.8,1216.8 L811.2,1218.6 L811.6,1220.4 L812.1,1222.9 L812.5,1224.7 L812.8,1226.5 L813.2,1228.2 L813.7,1230.6 L814.1,1232.4 L814.5,1234.1 L815.0,1236.4 L815.3,1238.2 L815.8,1240.4 L816.2,1242.1 L816.6,1243.8 L817.1,1246.1 L817.6,1248.3 L818.0,1249.9 L818.5,1252.1 L818.8,1253.7 L819.3,1255.8 L819.8,1258.0 L820.2,1259.5 L820.7,1261.6 L821.2,1263.7 L821.6,1265.3 L822.1,1267.3 L822.6,1269.4 L823.1,1271.4 L823.6,1273.4 L824.1,1275.4 L824.6,1277.4 L825.1,1279.3 L825.6,1281.2 L826.1,1283.2 L826.6,1285.1 L827.1,1287.0 L827.6,1288.8 L828.1,1290.7 L828.6,1292.6 L829.1,1294.4 L829.7,1296.7 L830.2,1298.5 L830.7,1300.3 L831.2,1302.0 L831.8,1304.3 L832.3,1306.0 L833.0,1308.2 L833.5,1309.9 L834.1,1312.0 L834.6,1313.7 L835.2,1315.8 L835.7,1317.4 L836.3,1319.5 L836.8,1321.2 L837.5,1323.3 L838.1,1325.3 L838.6,1327.0 L839.2,1329.0 L839.8,1331.1 L840.3,1332.7 L841.0,1334.7 L841.6,1336.6 L842.2,1338.5 L842.8,1340.4 L843.5,1342.3 L844.1,1344.1 L844.8,1346.2 L845.5,1347.9 L846.2,1349.9 L847.0,1351.8 L847.7,1353.7 L848.5,1355.5 L849.2,1357.4 L850.0,1359.2 L850.7,1361.0 L851.5,1362.7 L852.3,1364.7 L853.1,1366.4 L854.0,1368.3 L854.8,1370.2 L855.6,1371.8 L856.5,1373.6 L857.5,1375.6 L858.3,1377.3 L859.2,1378.9 L860.2,1380.7 L861.2,1382.5 L862.2,1384.1 L863.3,1386.0 L864.3,1387.5 L865.5,1389.2 L866.6,1390.8 L867.8,1392.5 L869.0,1394.0 L870.2,1395.6 L871.5,1397.1 L872.8,1398.7 L874.2,1400.2 L875.6,1401.7 L876.8,1403.1 L878.2,1404.6 L879.6,1406.0 L881.1,1407.5 L882.5,1408.8 L884.0,1410.1 L885.6,1411.3 L887.3,1412.3 L889.2,1413.1 L891.1,1413.8 L893.0,1414.5 L894.8,1415.1 L896.7,1415.7 L898.7,1416.2 L900.6,1416.6 L902.6,1416.8 L904.6,1417.0 L906.6,1416.9 L908.6,1416.6 L910.5,1416.1 L912.5,1415.5 L914.3,1414.8 L916.1,1414.0 L918.0,1413.2 L919.7,1412.3 L921.6,1411.4 L923.3,1410.5 L925.1,1409.5 L926.7,1408.5 L928.3,1407.3 L930.0,1406.1 L931.5,1404.8 L933.1,1403.4 L934.6,1402.1 L936.0,1400.8 L937.5,1399.4 L939.0,1398.0 L940.5,1396.7 L941.8,1395.3 L943.2,1394.0 L944.7,1392.4 L946.1,1391.0 L947.3,1389.6 L948.7,1388.1 L950.1,1386.6 L951.5,1385.0 L952.7,1383.6 L954.1,1382.1 L955.3,1380.6 L956.7,1379.0 L957.9,1377.6 L959.2,1376.1 L960.6,1374.4 L961.8,1372.9 L963.1,1371.4 L964.3,1369.9 L965.6,1368.3 L966.8,1366.8 L968.2,1365.1 L969.4,1363.6 L970.7,1362.1 L971.9,1360.5 L973.2,1358.9 L974.4,1357.4 L975.7,1355.8 L976.9,1354.3 L978.2,1352.7 L979.4,1351.1 L980.7,1349.6 L981.9,1348.0 L983.2,1346.4 L984.4,1344.9 L985.7,1343.3 L986.9,1341.7 L988.2,1340.2 L989.4,1338.6 L990.6,1337.2 L991.8,1335.6 L993.1,1334.0 L994.3,1332.4 L995.6,1330.9 L996.8,1329.3 L998.1,1327.7 L999.3,1326.2 L1000.6,1324.6 L1001.8,1323.1 L1003.1,1321.6 L1004.4,1319.9 L1005.7,1318.4 L1006.9,1316.8 L1008.2,1315.3 L1009.4,1313.8 L1010.7,1312.3 L1012.1,1310.6 L1013.3,1309.1 L1014.6,1307.6 L1015.8,1306.1 L1017.1,1304.6 L1018.4,1302.9 L1019.7,1301.4 L1020.9,1299.9 L1022.3,1298.3 L1023.6,1296.9 L1024.9,1295.3 L1026.2,1293.9 L1027.6,1292.3 L1028.8,1290.9 L1030.2,1289.4 L1031.6,1287.9 L1032.9,1286.5 L1034.3,1285.0 L1035.7,1283.5 L1037.1,1282.0 L1038.4,1280.6 L1039.8,1279.1 L1041.2,1277.6 L1042.6,1276.2 L1043.9,1274.8 L1045.3,1273.4 L1046.7,1272.0 L1048.1,1270.6 L1049.6,1269.1 L1050.9,1267.8 L1052.4,1266.3 L1053.8,1265.1 L1055.3,1263.7 L1056.8,1262.4 L1058.4,1261.0 L1059.9,1259.8 L1061.4,1258.6 L1063.1,1257.3 L1064.7,1256.1 L1066.3,1254.9 L1067.8,1253.8 L1069.4,1252.5 L1071.1,1251.4 L1072.7,1250.2 L1074.3,1249.0 L1075.9,1247.9 L1077.7,1246.7 L1079.3,1245.6 L1080.9,1244.6 L1082.7,1243.6 L1084.4,1242.5 L1086.2,1241.6 L1087.9,1240.7 L1089.8,1239.8 L1091.7,1239.1 L1093.6,1238.4 L1095.4,1237.7 L1097.3,1237.2 L1099.2,1236.6 L1101.2,1236.0 L1103.1,1235.5 L1105.1,1234.9 L1106.9,1234.5 L1108.9,1234.1 L1110.9,1233.8 L1112.9,1233.6 L1114.9,1233.6 L1116.9,1233.6 L1118.9,1233.6 L1120.9,1233.7 L1122.9,1233.7 L1124.9,1233.8 L1126.9,1233.9 L1128.8,1234.0 L1130.8,1234.2 L1132.8,1234.4 L1134.8,1234.7 L1136.8,1235.2 L1138.7,1235.7 L1140.7,1236.2 L1142.6,1236.8 L1144.4,1237.4 L1146.3,1238.0 L1148.3,1238.7 L1150.2,1239.3 L1152.1,1240.0 L1153.9,1240.7 L1155.7,1241.5 L1157.6,1242.3 L1159.3,1243.2 L1161.2,1244.1 L1162.9,1245.0 L1164.7,1245.9 L1166.6,1246.8 L1168.3,1247.8 L1170.1,1248.8 L1171.7,1249.7 L1173.4,1250.7 L1175.2,1251.8 L1176.8,1252.8 L1178.6,1253.9 L1180.2,1255.0 L1181.9,1256.1 L1183.6,1257.2 L1185.2,1258.3 L1186.8,1259.5 L1188.4,1260.6 L1190.1,1261.8 L1191.7,1263.0 L1193.3,1264.2 L1194.9,1265.5 L1196.4,1266.6 L1198.1,1267.9 L1199.6,1269.1 L1201.2,1270.4 L1202.7,1271.7 L1204.3,1273.0 L1205.8,1274.3 L1207.3,1275.6 L1208.8,1277.0 L1210.3,1278.3 L1211.7,1279.6 L1213.2,1280.9 L1214.7,1282.4 L1216.1,1283.7 L1217.6,1285.1 L1218.9,1286.4 L1220.4,1287.9 L1221.8,1289.3 L1223.3,1290.8 L1224.7,1292.2 L1226.1,1293.6 L1227.4,1295.0 L1228.8,1296.5 L1230.2,1298.0 L1231.6,1299.5 L1232.8,1300.8 L1234.2,1302.4 L1235.6,1303.9 L1236.8,1305.4 L1238.2,1306.9 L1239.4,1308.4 L1240.8,1310.0 L1242.1,1311.4 L1243.4,1313.0 L1244.7,1314.5 L1246.1,1316.1 L1247.3,1317.5 L1248.6,1319.0 L1249.9,1320.6 L1251.2,1322.0 L1252.4,1323.5 L1253.8,1325.2 L1255.1,1326.7 L1256.3,1328.2 L1257.6,1329.7 L1258.9,1331.4 L1260.2,1332.9 L1261.4,1334.4 L1262.7,1335.9 L1263.9,1337.4 L1265.3,1339.1 L1266.6,1340.6 L1267.8,1342.1 L1269.0,1343.6 L1270.4,1345.2 L1271.7,1346.6 L1272.9,1348.1 L1274.3,1349.7 L1275.5,1351.2 L1276.9,1352.8 L1278.2,1354.2 L1279.4,1355.7 L1280.8,1357.3 L1282.0,1358.7 L1283.4,1360.3 L1284.7,1361.8 L1286.0,1363.3 L1287.3,1364.8 L1288.7,1366.3 L1290.0,1367.9 L1291.3,1369.3 L1292.7,1370.9 L1293.9,1372.2 L1295.3,1373.8 L1296.7,1375.3 L1298.0,1376.8 L1299.3,1378.2 L1300.7,1379.7 L1302.0,1381.2 L1303.4,1382.7 L1304.8,1384.2 L1306.0,1385.6 L1307.4,1387.1 L1308.8,1388.5 L1310.2,1390.0 L1311.5,1391.5 L1312.9,1392.9 L1314.3,1394.4 L1315.7,1395.8 L1317.0,1397.3 L1318.4,1398.7 L1319.8,1400.1 L1321.2,1401.6 L1322.5,1403.0 L1324.0,1404.5 L1325.4,1405.9 L1326.8,1407.3 L1328.2,1408.7 L1329.5,1410.1 L1331.0,1411.6 L1332.4,1413.0 L1333.8,1414.4 L1335.3,1415.9 L1336.7,1417.2 L1338.2,1418.7 L1339.5,1420.0 L1340.9,1421.4 L1342.4,1422.8 L1343.8,1424.2 L1345.3,1425.6 L1346.8,1427.0 L1348.2,1428.4 L1349.7,1429.8 L1351.0,1431.1 L1352.5,1432.5 L1354.0,1433.9 L1355.4,1435.2 L1356.9,1436.6 L1358.4,1437.9 L1359.9,1439.3 L1361.4,1440.7 L1362.8,1441.9 L1364.3,1443.3 L1365.8,1444.6 L1367.3,1446.0 L1368.8,1447.3 L1370.3,1448.6 L1371.8,1449.9 L1373.3,1451.3 L1374.8,1452.6 L1376.3,1453.9 L1377.8,1455.2 L1379.4,1456.5 L1380.9,1457.8 L1382.4,1459.1 L1383.9,1460.3 L1385.5,1461.7 L1387.0,1462.9 L1388.5,1464.2 L1390.2,1465.5 L1391.7,1466.7 L1393.2,1467.9 L1394.8,1469.2 L1396.3,1470.4 L1397.9,1471.7 L1399.4,1472.9 L1401.0,1474.2 L1402.7,1475.5 L1404.2,1476.6 L1405.8,1477.9 L1407.4,1479.1 L1408.9,1480.3 L1410.5,1481.5 L1412.2,1482.7 L1413.8,1483.9 L1415.4,1485.1 L1417.0,1486.3 L1418.7,1487.5 L1420.3,1488.6 L1421.9,1489.8 L1423.5,1491.0 L1425.2,1492.1 L1426.8,1493.3 L1428.4,1494.4 L1430.0,1495.5 L1431.7,1496.6 L1433.4,1497.8 L1435.0,1498.9 L1436.7,1500.0 L1438.3,1501.0 L1440.0,1502.2 L1441.7,1503.3 L1443.4,1504.4 L1445.0,1505.4 L1446.8,1506.5 L1448.4,1507.6 L1450.2,1508.6 L1451.8,1509.6 L1453.5,1510.7 L1455.3,1511.8 L1457.0,1512.8 L1458.7,1513.8 L1460.4,1514.8 L1462.2,1515.8 L1463.9,1516.8 L1465.7,1517.8 L1467.4,1518.8 L1469.2,1519.8 L1470.9,1520.8 L1472.7,1521.7 L1474.4,1522.7 L1476.2,1523.6 L1477.9,1524.5 L1479.7,1525.4 L1481.4,1526.3 L1483.3,1527.3 L1485.0,1528.2 L1486.8,1529.1 L1488.7,1530.0 L1490.4,1530.8 L1492.2,1531.7 L1494.0,1532.6 L1495.8,1533.4 L1497.7,1534.3 L1499.4,1535.1 L1501.3,1535.9 L1503.2,1536.7 L1504.9,1537.5 L1506.8,1538.3 L1508.7,1539.1 L1510.4,1539.9 L1512.3,1540.7 L1514.2,1541.4 L1516.0,1542.2 L1517.9,1543.0 L1519.7,1543.6 L1521.5,1544.4 L1523.4,1545.1 L1525.3,1545.8 L1527.2,1546.5 L1529.0,1547.2 L1530.9,1547.9 L1532.8,1548.6 L1534.7,1549.3 L1536.5,1549.9 L1538.5,1550.6 L1540.4,1551.2 L1542.3,1551.8 L1544.2,1552.4 L1546.0,1553.1 L1548.0,1553.7 L1549.9,1554.3 L1551.8,1554.9 L1553.7,1555.4 L1555.7,1556.1 L1557.5,1556.6 L1559.4,1557.2 L1561.4,1557.7 L1563.3,1558.3 L1565.3,1558.8 L1567.2,1559.3 L1569.0,1559.8 L1571.0,1560.3 L1573.0,1560.9 L1574.9,1561.3 L1576.9,1561.8 L1578.8,1562.3 L1580.8,1562.8 L1582.6,1563.2 L1584.6,1563.7 L1586.5,1564.1 L1588.5,1564.6 L1590.5,1565.0 L1592.4,1565.4 L1594.4,1565.9 L1596.4,1566.3 L1598.3,1566.7 L1600.3,1567.1 L1602.3,1567.5 L1604.1,1567.8 L1606.1,1568.2 L1608.1,1568.6 L1610.0,1568.9 L1612.0,1569.3 L1614.0,1569.6 L1616.0,1570.0 L1618.0,1570.3 L1619.9,1570.6 L1621.9,1570.9 L1623.9,1571.3 L1625.9,1571.6 L1627.9,1571.9 L1629.8,1572.2 L1631.8,1572.5 L1633.8,1572.8 L1635.8,1573.0 L1637.8,1573.3 L1639.8,1573.6 L1641.6,1573.8 L1643.6,1574.1 L1645.6,1574.4 L1647.6,1574.6 L1649.6,1574.8 L1651.6,1575.1 L1653.6,1575.3 L1655.6,1575.5 L1657.6,1575.7 L1659.5,1575.9 L1661.5,1576.1 L1663.5,1576.3 L1665.5,1576.6 L1667.5,1576.7 L1669.5,1576.9 L1671.5,1577.1 L1673.5,1577.3 L1675.5,1577.5 L1677.5,1577.7 L1679.5,1577.8 L1681.5,1578.0 L1683.5,1578.2 L1685.5,1578.3 L1687.5,1578.5 L1689.4,1578.6 L1691.4,1578.8 L1693.4,1578.9 L1695.4,1579.1 L1697.4,1579.2 L1699.4,1579.4 L1701.4,1579.5 L1703.4,1579.6 L1705.4,1579.8 L1707.4,1579.9 L1709.4,1580.0 L1711.4,1580.1 L1713.4,1580.2 L1715.4,1580.4 L1717.4,1580.5 L1719.4,1580.6 L1721.4,1580.7 L1723.4,1580.8 L1725.4,1580.9 L1727.4,1581.0 L1729.4,1581.1 L1731.4,1581.2 L1733.4,1581.3 L1735.4,1581.5 L1737.4,1581.6 L1739.4,1581.7 L1741.4,1581.8 L1743.4,1581.9 L1745.4,1582.0 L1747.4,1582.1 L1749.4,1582.2 L1751.4,1582.3 L1753.4,1582.4 L1755.4,1582.5 L1757.4,1582.7 L1759.4,1582.8 L1761.4,1582.9 L1763.4,1583.0 L1765.3,1583.1 L1767.3,1583.2 L1769.3,1583.3 L1771.3,1583.4 L1773.3,1583.5 L1775.3,1583.6 L1777.3,1583.6 L1779.3,1583.7 L1781.3,1583.8 L1783.3,1583.9 L1785.3,1584.0 L1787.3,1584.1 L1789.3,1584.1 L1791.3,1584.2 L1793.3,1584.3 L1795.3,1584.4 L1797.3,1584.4 L1799.3,1584.5 L1801.3,1584.5 L1803.3,1584.6 L1805.3,1584.7 L1807.3,1584.7 L1809.3,1584.8 L1811.3,1584.8 L1813.3,1584.9 L1815.3,1584.9 L1817.3,1585.0 L1819.3,1585.0 L1821.3,1585.1 L1823.3,1585.1 L1825.3,1585.2 L1827.3,1585.2 L1829.3,1585.3 L1831.3,1585.3 L1833.3,1585.4 L1835.3,1585.4 L1837.3,1585.5 L1839.3,1585.5 L1841.3,1585.6 L1843.3,1585.6 L1845.3,1585.7 L1847.3,1585.7 L1849.3,1585.8 L1851.3,1585.8 L1853.3,1585.8 L1855.3,1585.9 L1857.3,1585.9 L1859.3,1585.9 L1861.3,1586.0 L1863.3,1586.0 L1865.3,1586.0 L1867.3,1586.1 L1869.3,1586.1 L1871.3,1586.1 L1873.3,1586.2 L1875.3,1586.2 L1877.3,1586.2 L1879.3,1586.2 L1881.3,1586.2 L1883.3,1586.3 L1885.3,1586.3 L1887.3,1586.3 L1889.3,1586.3 L1891.0,1586.3" fill="none" stroke="#2a55f5" stroke-width="8" stroke-dasharray="20 14" stroke-linejoin="round"/>
<path d="M333.0,1378.0 L334.2,1379.5 L335.0,1381.7 L335.5,1383.6 L335.9,1385.3 L336.4,1387.7 L336.7,1389.7 L337.0,1391.5 L337.2,1394.4 L337.4,1396.1 L337.5,1398.1 L337.6,1400.1 L337.7,1402.3 L337.9,1404.6 L338.0,1407.0 L338.1,1409.3 L338.2,1411.7 L338.4,1414.0 L338.5,1416.3 L338.6,1418.4 L338.7,1420.4 L338.9,1422.2 L339.0,1423.9 L339.1,1425.4 L339.4,1428.4 L339.5,1429.8 L339.6,1431.2 L339.9,1433.9 L340.0,1435.3 L340.2,1437.9 L340.4,1439.1 L340.6,1441.6 L340.9,1444.0 L341.0,1445.2 L341.2,1447.5 L341.5,1449.8 L341.7,1452.0 L341.9,1453.1 L342.1,1455.3 L342.4,1457.5 L342.6,1459.6 L342.9,1461.8 L343.1,1463.9 L343.2,1465.0 L343.5,1467.1 L343.7,1469.2 L344.0,1471.2 L344.2,1473.3 L344.5,1475.3 L344.7,1477.2 L345.0,1479.1 L345.2,1481.0 L345.5,1482.8 L345.9,1485.3 L346.1,1487.0 L346.5,1489.3 L346.7,1490.8 L347.1,1492.8 L347.5,1494.8 L347.9,1496.7 L348.2,1498.5 L348.7,1500.8 L349.1,1502.5 L349.6,1504.7 L350.1,1506.7 L350.5,1508.2 L351.0,1510.2 L351.6,1512.5 L352.1,1514.3 L352.6,1516.1 L353.2,1518.3 L353.7,1520.0 L354.4,1522.1 L354.9,1523.7 L355.5,1525.7 L356.1,1527.7 L356.7,1529.6 L357.4,1531.4 L358.0,1533.2 L358.7,1535.3 L359.4,1537.0 L360.1,1538.9 L360.9,1540.7 L361.6,1542.5 L362.5,1544.4 L363.4,1546.3 L364.2,1548.1 L365.1,1549.9 L366.0,1551.6 L366.9,1553.3 L367.9,1555.1 L368.9,1556.8 L369.9,1558.4 L371.0,1560.1 L372.1,1561.7 L373.4,1563.3 L374.7,1564.9 L376.0,1566.4 L377.4,1567.9 L378.6,1569.3 L380.1,1570.8 L381.6,1572.1 L383.1,1573.3 L384.9,1574.4 L386.6,1575.2 L388.5,1575.9 L390.4,1576.6 L392.2,1577.2 L394.2,1577.7 L396.2,1578.2 L398.1,1578.4 L400.1,1578.5 L402.1,1578.4 L404.1,1578.1 L406.1,1577.7 L408.0,1577.2 L410.0,1576.6 L411.9,1576.0 L413.7,1575.4 L415.6,1574.7 L417.5,1573.9 L419.2,1572.9 L420.9,1571.9 L422.5,1570.7 L424.1,1569.5 L425.7,1568.2 L427.2,1566.9 L428.7,1565.6 L430.1,1564.2 L431.5,1562.7 L432.7,1561.2 L434.0,1559.5 L435.1,1558.0 L436.2,1556.4 L437.4,1554.7 L438.5,1553.0 L439.6,1551.2 L440.6,1549.6 L441.6,1547.8 L442.6,1546.0 L443.5,1544.3 L444.4,1542.6 L445.4,1540.6 L446.1,1539.0 L447.0,1537.1 L447.9,1535.1 L448.6,1533.4 L449.4,1531.7 L450.1,1529.8 L450.9,1527.9 L451.6,1526.0 L452.2,1524.2 L453.0,1522.1 L453.6,1520.3 L454.2,1518.5 L454.9,1516.6 L455.5,1514.7 L456.1,1512.8 L456.7,1510.8 L457.4,1508.9 L458.0,1507.0 L458.6,1505.0 L459.2,1503.0 L459.7,1501.4 L460.4,1499.3 L461.0,1497.2 L461.5,1495.5 L462.1,1493.4 L462.6,1491.7 L463.2,1489.5 L463.7,1487.8 L464.4,1485.7 L464.9,1483.9 L465.4,1482.2 L466.0,1480.0 L466.5,1478.2 L467.0,1476.5 L467.6,1474.2 L468.1,1472.4 L468.6,1470.6 L469.2,1468.4 L469.7,1466.6 L470.2,1464.7 L470.7,1462.9 L471.4,1460.7 L471.9,1458.9 L472.4,1457.1 L473.0,1454.9 L473.5,1453.1 L474.0,1451.3 L474.6,1449.1 L475.1,1447.3 L475.6,1445.5 L476.1,1443.7 L476.7,1441.5 L477.2,1439.7 L477.7,1437.9 L478.4,1435.7 L478.9,1433.9 L479.4,1432.1 L480.0,1429.9 L480.5,1428.1 L481.0,1426.3 L481.6,1424.1 L482.1,1422.3 L482.6,1420.5 L483.1,1418.6 L483.7,1416.4 L484.2,1414.6 L484.7,1412.8 L485.4,1410.6 L485.9,1408.8 L486.4,1407.0 L487.0,1404.8 L487.5,1403.1 L488.0,1401.3 L488.6,1399.2 L489.2,1397.2 L489.7,1395.6 L490.4,1393.6 L491.0,1391.5 L491.5,1389.8 L492.1,1387.6 L492.6,1385.8 L493.1,1383.9 L493.6,1382.1 L494.1,1380.2 L494.6,1378.2 L495.1,1376.3 L495.6,1374.3 L496.1,1372.3 L496.6,1370.3 L497.1,1368.2 L497.5,1366.6 L498.0,1364.5 L498.5,1362.3 L498.9,1360.6 L499.4,1358.4 L499.7,1356.7 L500.1,1354.9 L500.6,1352.5 L501.0,1350.7 L501.4,1348.9 L501.7,1347.0 L502.1,1345.1 L502.5,1343.2 L503.0,1340.6 L503.4,1338.6 L503.7,1336.7 L504.1,1334.7 L504.4,1333.3 L504.7,1331.4 L505.1,1329.4 L505.5,1327.4 L505.9,1325.4 L506.2,1323.4 L506.6,1321.4 L507.0,1319.3 L507.4,1317.3 L507.7,1315.2 L508.1,1313.2 L508.5,1311.1 L508.7,1309.7 L509.1,1307.6 L509.5,1305.5 L509.9,1303.4 L510.2,1301.2 L510.5,1299.8 L510.9,1297.7 L511.2,1295.5 L511.6,1293.3 L511.9,1291.9 L512.2,1289.7 L512.6,1287.5 L512.9,1286.0 L513.2,1283.7 L513.6,1281.5 L513.9,1280.0 L514.2,1277.7 L514.5,1276.2 L514.9,1273.9 L515.2,1271.6 L515.5,1270.0 L515.9,1267.7 L516.1,1266.2 L516.5,1263.8 L516.7,1262.2 L517.1,1259.9 L517.4,1258.3 L517.7,1255.9 L518.0,1254.3 L518.4,1251.9 L518.6,1250.3 L519.0,1247.8 L519.2,1246.2 L519.5,1244.6 L519.9,1242.1 L520.1,1240.4 L520.5,1237.9 L520.7,1236.3 L521.0,1234.6 L521.4,1232.1 L521.6,1230.4 L521.9,1228.7 L522.2,1226.1 L522.5,1224.4 L522.7,1222.7 L523.1,1220.1 L523.4,1218.4 L523.6,1216.7 L523.9,1214.9 L524.2,1212.3 L524.5,1210.5 L524.7,1208.8 L525.0,1207.0 L525.4,1204.3 L525.6,1202.5 L525.9,1200.7 L526.1,1199.0 L526.5,1196.2 L526.7,1194.4 L527.0,1192.6 L527.2,1190.8 L527.5,1189.0 L527.7,1187.1 L528.1,1184.4 L528.4,1182.5 L528.6,1180.7 L528.9,1178.8 L529.1,1176.9 L529.4,1175.1 L529.6,1173.2 L529.9,1171.3 L530.2,1168.5 L530.5,1166.6 L530.7,1164.6 L531.0,1162.7 L531.2,1160.8 L531.5,1158.9 L531.7,1157.0 L532.0,1155.0 L532.2,1153.1 L532.5,1151.2 L532.7,1149.2 L533.0,1147.2 L533.2,1145.3 L533.5,1143.3 L533.7,1141.3 L534.0,1139.4 L534.2,1137.4 L534.5,1135.4 L534.7,1133.4 L535.0,1131.4 L535.2,1129.4 L535.5,1127.4 L535.7,1125.4 L536.0,1123.4 L536.2,1121.3 L536.5,1119.3 L536.7,1117.3 L537.0,1115.2 L537.2,1113.2 L537.5,1111.2 L537.7,1109.1 L538.0,1107.0 L538.2,1105.0 L538.5,1102.9 L538.6,1101.9 L538.9,1099.8 L539.1,1097.7 L539.4,1095.6 L539.6,1093.5 L539.9,1091.4 L540.1,1089.4 L540.4,1087.2 L540.6,1085.1 L540.9,1083.0 L541.0,1082.0 L541.2,1079.9 L541.5,1077.7 L541.7,1075.6 L542.0,1073.5 L542.2,1071.3 L542.5,1069.2 L542.6,1068.1 L542.9,1066.0 L543.1,1063.8 L543.4,1061.7 L543.6,1059.5 L543.9,1057.4 L544.1,1055.2 L544.2,1054.1 L544.5,1051.9 L544.7,1049.8 L545.0,1047.6 L545.2,1045.4 L545.4,1044.3 L545.6,1042.1 L545.9,1039.9 L546.1,1037.7 L546.4,1035.5 L546.6,1033.3 L546.7,1032.2 L547.0,1030.0 L547.2,1027.8 L547.5,1025.6 L547.7,1023.4 L547.9,1022.2 L548.1,1020.0 L548.4,1017.8 L548.6,1015.6 L548.7,1014.4 L549.0,1012.2 L549.2,1010.0 L549.5,1007.7 L549.7,1005.5 L549.9,1004.3 L550.1,1002.1 L550.4,999.8 L550.6,997.6 L550.7,996.5 L551.0,994.2 L551.2,991.9 L551.5,989.7 L551.6,988.5 L551.9,986.2 L552.1,984.0 L552.4,981.7 L552.5,980.6 L552.7,978.3 L553.0,976.0 L553.2,973.7 L553.4,972.5 L553.6,970.3 L553.9,968.0 L554.1,965.7 L554.2,964.5 L554.5,962.2 L554.7,959.9 L554.9,958.7 L555.1,956.4 L555.4,954.1 L555.6,951.8 L555.7,950.6 L556.0,948.3 L556.2,946.0 L556.4,944.8 L556.6,942.5 L556.9,940.2 L557.1,937.8 L557.2,936.7 L557.5,934.3 L557.7,932.0 L557.9,930.8 L558.1,928.5 L558.4,926.1 L558.5,925.0 L558.7,922.6 L559.0,920.3 L559.2,917.9 L559.4,916.7 L559.6,914.4 L559.9,912.0 L560.0,910.8 L560.2,908.5 L560.5,906.1 L560.6,904.9 L560.9,902.6 L561.1,900.2 L561.2,899.0 L561.5,896.6 L561.7,894.2 L561.9,893.1 L562.1,890.7 L562.4,888.3 L562.5,887.1 L562.7,884.7 L563.0,882.3 L563.1,881.1 L563.4,878.7 L563.6,876.3 L563.7,875.1 L564.0,872.7 L564.2,870.3 L564.4,869.1 L564.6,866.7 L564.9,864.3 L565.0,863.1 L565.2,860.7 L565.5,858.3 L565.6,857.1 L565.9,854.7 L566.1,852.3 L566.2,851.0 L566.5,848.6 L566.6,847.4 L566.9,845.0 L567.1,842.6 L567.2,841.3 L567.5,838.9 L567.7,836.5 L567.9,835.3 L568.1,832.8 L568.4,830.4 L568.5,829.2 L568.7,826.7 L568.9,825.5 L569.1,823.1 L569.4,820.6 L569.5,819.4 L569.7,816.9 L570.0,814.5 L570.1,813.3 L570.4,810.8 L570.5,809.6 L570.7,807.1 L571.0,804.7 L571.1,803.4 L571.4,801.0 L571.6,798.5 L571.7,797.3 L572.0,794.8 L572.1,793.6 L572.4,791.1 L572.6,788.6 L572.7,787.4 L573.0,784.9 L573.1,783.7 L573.4,781.2 L573.6,778.7 L573.7,777.5 L574.0,775.0 L574.1,773.8 L574.4,771.3 L574.6,768.8 L574.7,767.5 L575.0,765.0 L575.1,763.8 L575.4,761.3 L575.6,758.8 L575.7,757.6 L576.0,755.1 L576.1,753.8 L576.4,751.3 L576.6,748.8 L576.7,747.6 L577.0,745.1 L577.1,743.8 L577.4,741.3 L577.6,738.8 L577.7,737.5 L578.0,735.0 L578.1,733.8 L578.4,731.3 L578.5,730.0 L578.7,727.5 L579.0,725.0 L579.1,723.7 L579.4,721.2 L579.5,720.0 L579.7,717.5 L580.0,714.9 L580.1,713.7 L580.4,711.2 L580.5,709.9 L580.7,707.4 L580.9,706.1 L581.1,703.6 L581.4,701.1 L581.5,699.8 L581.7,697.3 L581.9,696.0 L582.1,693.5 L582.2,692.2 L582.5,689.7 L582.7,687.2 L582.9,685.9 L583.1,683.4 L583.2,682.2 L583.5,679.6 L583.7,677.1 L583.9,675.8 L584.1,673.3 L584.2,672.1 L584.5,669.5 L584.6,668.3 L584.9,665.7 L585.1,663.2 L585.2,662.0 L585.5,659.4 L585.6,658.2 L585.9,655.7 L586.0,654.4 L586.2,651.9 L586.5,649.4 L586.6,648.1 L586.9,645.6 L587.0,644.3 L587.2,641.8 L587.5,639.3 L587.6,638.1 L587.9,635.5 L588.0,634.3 L588.2,631.8 L588.4,630.5 L588.6,628.0 L588.9,625.5 L589.0,624.3 L589.2,621.8 L589.4,620.5 L589.6,618.0 L589.9,615.5 L590.0,614.3 L590.2,611.8 L590.4,610.6 L590.6,608.1 L590.9,605.6 L591.0,604.4 L591.2,601.9 L591.4,600.6 L591.6,598.2 L591.9,595.7 L592.0,594.5 L592.2,592.0 L592.5,589.5 L592.6,588.3 L592.9,585.9 L593.0,584.6 L593.2,582.2 L593.5,579.8 L593.6,578.5 L593.9,576.1 L594.1,573.7 L594.2,572.4 L594.5,570.0 L594.6,568.8 L594.9,566.4 L595.1,564.0 L595.2,562.8 L595.5,560.4 L595.7,558.0 L595.9,556.8 L596.1,554.4 L596.4,552.0 L596.5,550.8 L596.7,548.4 L597.0,546.1 L597.1,544.9 L597.4,542.5 L597.6,540.2 L597.7,539.0 L598.0,536.6 L598.2,534.3 L598.5,532.0 L598.6,530.8 L598.9,528.5 L599.1,526.2 L599.2,525.0 L599.5,522.7 L599.7,520.4 L600.0,518.2 L600.1,517.0 L600.4,514.7 L600.6,512.5 L600.9,510.2 L601.0,509.1 L601.2,506.8 L601.5,504.6 L601.7,502.3 L601.9,501.2 L602.1,499.0 L602.4,496.8 L602.6,494.6 L602.9,492.4 L603.0,491.3 L603.2,489.1 L603.5,486.9 L603.7,484.8 L604.0,482.6 L604.2,480.4 L604.4,479.4 L604.6,477.2 L604.9,475.1 L605.1,473.0 L605.4,470.9 L605.6,468.8 L605.9,466.7 L606.1,464.6 L606.4,462.5 L606.5,461.5 L606.7,459.4 L607.0,457.4 L607.2,455.3 L607.5,453.3 L607.7,451.3 L608.0,449.3 L608.2,447.2 L608.5,445.2 L608.7,443.3 L609.0,441.3 L609.2,439.3 L609.5,437.3 L609.7,435.4 L610.0,433.4 L610.2,431.5 L610.5,429.6 L610.7,427.7 L611.0,425.8 L611.4,422.9 L611.6,421.1 L611.9,419.2 L612.1,417.3 L612.4,415.5 L612.6,413.6 L612.9,411.8 L613.2,409.1 L613.5,407.2 L613.7,405.4 L614.0,403.6 L614.2,401.8 L614.6,399.2 L614.9,397.4 L615.1,395.7 L615.4,393.9 L615.7,391.3 L616.0,389.6 L616.2,387.9 L616.5,386.2 L616.9,383.6 L617.1,381.9 L617.5,379.4 L617.7,377.8 L618.0,376.1 L618.4,373.6 L618.6,372.0 L619.0,369.6 L619.2,368.0 L619.5,366.4 L619.9,364.0 L620.1,362.4 L620.5,360.0 L620.7,358.5 L621.1,356.2 L621.5,353.9 L621.7,352.3 L622.1,350.0 L622.4,348.5 L622.7,346.3 L623.1,344.0 L623.4,342.6 L623.7,340.3 L624.1,338.2 L624.4,336.7 L624.7,334.5 L625.1,332.4 L625.5,330.3 L625.7,328.8 L626.1,326.7 L626.5,324.7 L626.9,322.6 L627.2,320.5 L627.6,318.5 L628.0,316.5 L628.2,315.1 L628.6,313.1 L629.0,311.1 L629.4,309.1 L629.7,307.2 L630.1,305.2 L630.5,303.3 L630.9,301.4 L631.4,298.8 L631.7,297.0 L632.1,295.1 L632.5,293.2 L632.9,291.4 L633.2,289.6 L633.7,287.1 L634.1,285.3 L634.5,283.6 L634.9,281.8 L635.4,279.4 L635.7,277.7 L636.2,275.4 L636.6,273.6 L637.0,271.9 L637.5,269.7 L637.9,268.0 L638.4,265.7 L638.7,264.1 L639.2,261.9 L639.6,260.2 L640.1,258.1 L640.5,256.4 L641.0,254.1 L641.4,252.4 L641.7,250.6 L642.2,248.2 L642.6,246.4 L643.0,244.7 L643.5,242.4 L644.0,240.4 L644.5,238.5 L645.0,236.9 L645.7,235.0 L646.6,233.3 L647.6,231.5 L648.7,229.7 L649.8,228.1 L651.1,226.6 L652.6,225.2 L654.2,224.2 L656.0,223.3 L657.8,222.5 L659.8,222.0 L661.7,222.1 L663.7,222.7 L665.5,223.6 L667.2,224.7 L668.8,225.8 L670.2,227.3 L671.5,229.0 L672.5,230.6 L673.5,232.5 L674.3,234.2 L675.1,235.9 L676.0,237.9 L676.6,239.8 L677.2,241.9 L677.7,243.9 L678.1,245.4 L678.6,247.6 L679.1,249.8 L679.5,251.5 L679.8,253.2 L680.3,255.4 L680.8,257.5 L681.2,259.1 L681.7,261.2 L682.2,263.3 L682.6,264.9 L683.1,267.1 L683.6,269.2 L684.0,270.9 L684.5,273.1 L684.8,274.8 L685.3,277.0 L685.7,278.7 L686.2,281.0 L686.6,282.7 L687.0,284.5 L687.5,286.8 L687.8,288.6 L688.2,290.4 L688.6,292.2 L689.1,294.6 L689.5,296.5 L689.8,298.3 L690.2,300.2 L690.6,302.1 L691.1,304.6 L691.5,306.5 L691.8,308.4 L692.2,310.4 L692.6,312.3 L693.0,314.3 L693.3,316.3 L693.7,318.3 L694.1,320.3 L694.3,321.7 L694.7,323.7 L695.1,325.8 L695.5,327.9 L695.8,329.9 L696.2,332.1 L696.6,334.2 L696.8,335.6 L697.2,337.7 L697.6,339.9 L697.8,341.4 L698.2,343.6 L698.6,345.8 L698.8,347.3 L699.2,349.5 L699.6,351.8 L699.8,353.3 L700.2,355.6 L700.6,357.9 L700.8,359.4 L701.2,361.8 L701.5,363.3 L701.8,365.7 L702.1,367.3 L702.5,369.7 L702.7,371.3 L703.1,373.7 L703.3,375.3 L703.6,376.9 L704.0,379.4 L704.2,381.1 L704.6,383.6 L704.8,385.2 L705.1,386.9 L705.5,389.4 L705.7,391.1 L706.0,392.8 L706.3,395.4 L706.6,397.1 L706.8,398.9 L707.2,401.5 L707.5,403.2 L707.7,405.0 L708.0,406.8 L708.3,409.4 L708.6,411.2 L708.8,413.0 L709.1,414.8 L709.3,416.6 L709.7,419.3 L710.0,421.1 L710.2,422.9 L710.5,424.8 L710.7,426.6 L711.0,428.5 L711.3,431.2 L711.6,433.1 L711.8,435.0 L712.1,436.9 L712.3,438.7 L712.6,440.6 L712.8,442.5 L713.1,444.4 L713.3,446.3 L713.6,448.3 L713.8,450.2 L714.2,453.1 L714.5,455.0 L714.7,456.9 L715.0,458.9 L715.2,460.8 L715.5,462.8 L715.7,464.7 L716.0,466.7 L716.2,468.7 L716.5,470.6 L716.7,472.6 L717.0,474.6 L717.2,476.6 L717.5,478.6 L717.7,480.6 L718.0,482.6 L718.2,484.6 L718.5,486.6 L718.7,488.6 L719.0,490.6 L719.2,492.6 L719.5,494.6 L719.7,496.7 L720.0,498.7 L720.2,500.7 L720.5,502.8 L720.6,503.8 L720.8,505.8 L721.1,507.9 L721.3,509.9 L721.6,512.0 L721.8,514.0 L722.1,516.1 L722.3,518.1 L722.6,520.2 L722.8,522.2 L723.1,524.3 L723.3,526.4 L723.6,528.4 L723.8,530.5 L724.1,532.6 L724.2,533.6 L724.5,535.7 L724.7,537.7 L725.0,539.8 L725.2,541.9 L725.5,544.0 L725.7,546.0 L726.0,548.1 L726.2,550.2 L726.5,552.3 L726.7,554.4 L726.8,555.4 L727.1,557.5 L727.3,559.6 L727.6,561.6 L727.8,563.7 L728.1,565.8 L728.3,567.9 L728.6,570.0 L728.8,572.0 L729.1,574.1 L729.3,576.2 L729.5,577.3 L729.7,579.3 L730.0,581.4 L730.2,583.5 L730.5,585.6 L730.7,587.7 L731.0,589.7 L731.2,591.8 L731.5,593.9 L731.7,596.0 L732.0,598.1 L732.1,599.1 L732.3,601.2 L732.6,603.3 L732.8,605.3 L733.1,607.4 L733.3,609.5 L733.6,611.6 L733.8,613.6 L734.1,615.7 L734.3,617.8 L734.6,619.9 L734.7,620.9 L735.0,623.0 L735.2,625.0 L735.5,627.1 L735.7,629.2 L736.0,631.2 L736.2,633.3 L736.5,635.4 L736.7,637.4 L737.0,639.5 L737.2,641.6 L737.5,643.6 L737.7,645.7 L737.8,646.7 L738.1,648.8 L738.3,650.8 L738.6,652.9 L738.8,654.9 L739.1,657.0 L739.3,659.0 L739.6,661.1 L739.8,663.1 L740.1,665.2 L740.3,667.2 L740.6,669.3 L740.8,671.3 L741.1,673.4 L741.3,675.4 L741.6,677.5 L741.7,678.5 L742.0,680.5 L742.2,682.6 L742.5,684.6 L742.7,686.6 L743.0,688.7 L743.2,690.7 L743.5,692.7 L743.7,694.8 L744.0,696.8 L744.2,698.8 L744.5,700.9 L744.7,702.9 L745.0,704.9 L745.2,706.9 L745.5,709.0 L745.7,711.0 L746.0,713.0 L746.2,715.0 L746.5,717.0 L746.7,719.1 L747.0,721.1 L747.2,723.1 L747.5,725.1 L747.6,726.1 L747.8,728.1 L748.1,730.2 L748.3,732.2 L748.6,734.2 L748.8,736.2 L749.1,738.2 L749.3,740.2 L749.6,742.2 L749.8,744.2 L750.1,746.2 L750.3,748.2 L750.6,750.2 L750.8,752.3 L751.1,754.3 L751.3,756.3 L751.6,758.3 L751.8,760.3 L752.1,762.3 L752.3,764.3 L752.6,766.3 L752.8,768.3 L753.1,770.3 L753.3,772.3 L753.6,774.3 L753.8,776.3 L754.1,778.3 L754.3,780.3 L754.6,782.2 L754.8,784.2 L755.1,786.2 L755.3,788.2 L755.6,790.2 L755.8,792.2 L756.1,794.2 L756.3,796.2 L756.6,798.2 L756.8,800.2 L757.1,802.2 L757.3,804.2 L757.6,806.2 L757.8,808.1 L758.1,810.1 L758.3,812.1 L758.6,814.1 L758.8,816.1 L759.1,818.1 L759.3,820.1 L759.6,822.1 L759.8,824.0 L760.1,826.0 L760.3,828.0 L760.6,830.0 L760.8,832.0 L761.1,834.0 L761.3,836.0 L761.6,837.9 L761.8,839.9 L762.1,841.9 L762.3,843.9 L762.6,845.9 L762.8,847.9 L763.1,849.8 L763.3,851.8 L763.6,853.8 L763.8,855.8 L764.1,857.8 L764.3,859.7 L764.6,861.7 L764.8,863.7 L765.1,865.7 L765.3,867.7 L765.6,869.6 L765.8,871.6 L766.1,873.6 L766.3,875.6 L766.6,877.6 L766.8,879.5 L767.1,881.5 L767.3,883.5 L767.6,885.5 L767.8,887.4 L768.1,889.4 L768.3,891.4 L768.6,893.4 L768.8,895.3 L769.1,897.3 L769.3,899.3 L769.6,901.3 L769.8,903.2 L770.1,905.2 L770.3,907.2 L770.6,909.1 L770.8,911.1 L771.1,913.1 L771.3,915.1 L771.6,917.0 L771.8,919.0 L772.1,921.0 L772.3,922.9 L772.6,924.9 L772.8,926.8 L773.1,928.8 L773.3,930.8 L773.6,932.7 L773.8,934.7 L774.1,936.6 L774.3,938.6 L774.6,940.5 L774.8,942.5 L775.1,944.5 L775.3,946.4 L775.6,948.4 L776.0,951.3 L776.2,953.2 L776.5,955.2 L776.7,957.1 L777.0,959.1 L777.2,961.0 L777.5,962.9 L777.7,964.9 L778.0,966.8 L778.2,968.7 L778.5,970.7 L778.7,972.6 L779.0,974.5 L779.2,976.5 L779.5,978.4 L779.7,980.3 L780.0,982.2 L780.2,984.1 L780.5,986.1 L780.8,988.9 L781.1,990.8 L781.3,992.7 L781.6,994.6 L781.8,996.5 L782.1,998.4 L782.3,1000.3 L782.6,1002.2 L782.8,1004.1 L783.1,1006.0 L783.3,1007.9 L783.7,1010.7 L784.0,1012.6 L784.2,1014.4 L784.5,1016.3 L784.7,1018.2 L785.0,1020.0 L785.2,1021.9 L785.5,1023.7 L785.8,1026.5 L786.1,1028.4 L786.3,1030.2 L786.6,1032.0 L786.8,1033.9 L787.1,1035.7 L787.5,1038.4 L787.7,1040.3 L788.0,1042.1 L788.2,1043.9 L788.5,1045.7 L788.7,1047.5 L789.1,1050.2 L789.3,1052.0 L789.6,1053.8 L789.8,1055.5 L790.2,1058.2 L790.5,1060.0 L790.7,1061.7 L791.0,1063.5 L791.3,1066.1 L791.6,1067.9 L791.8,1069.6 L792.1,1071.3 L792.5,1073.9 L792.7,1075.7 L793.0,1077.4 L793.3,1080.0 L793.6,1081.7 L793.8,1083.4 L794.2,1085.9 L794.5,1087.6 L794.7,1089.3 L795.1,1091.8 L795.3,1093.4 L795.6,1095.1 L796.0,1097.5 L796.2,1099.2 L796.6,1101.6 L796.8,1103.3 L797.1,1104.9 L797.5,1107.3 L797.7,1108.9 L798.1,1111.4 L798.3,1112.9 L798.7,1115.3 L799.0,1116.9 L799.3,1119.3 L799.6,1120.8 L800.0,1123.2 L800.2,1124.7 L800.6,1127.0 L801.0,1129.3 L801.2,1130.8 L801.6,1133.1 L801.8,1134.6 L802.2,1136.8 L802.6,1139.1 L802.8,1140.6 L803.2,1142.8 L803.6,1145.0 L803.8,1146.4 L804.2,1148.6 L804.6,1150.8 L805.0,1152.9 L805.2,1154.4 L805.6,1156.5 L806.0,1158.6 L806.3,1160.7 L806.7,1162.8 L807.0,1164.1 L807.3,1166.2 L807.7,1168.3 L808.1,1170.3 L808.5,1172.3 L808.8,1174.3 L809.2,1176.3 L809.6,1178.3 L810.0,1180.3 L810.3,1182.2 L810.7,1184.1 L811.1,1186.1 L811.5,1188.0 L811.8,1189.9 L812.2,1191.8 L812.6,1193.7 L813.0,1195.5 L813.5,1198.0 L813.8,1199.8 L814.2,1201.7 L814.6,1203.5 L815.1,1205.9 L815.5,1207.7 L815.8,1209.4 L816.2,1211.2 L816.7,1213.5 L817.1,1215.2 L817.6,1217.5 L818.0,1219.2 L818.5,1221.4 L818.8,1223.1 L819.3,1225.3 L819.7,1226.9 L820.2,1229.1 L820.6,1230.8 L821.1,1232.9 L821.6,1235.1 L822.0,1236.7 L822.5,1238.8 L823.0,1240.9 L823.3,1242.4 L823.8,1244.5 L824.3,1246.5 L824.8,1248.5 L825.3,1250.5 L825.8,1252.5 L826.3,1254.4 L826.8,1256.3 L827.3,1258.3 L827.8,1260.2 L828.3,1262.0 L828.8,1263.9 L829.3,1265.8 L829.8,1267.6 L830.3,1269.5 L831.0,1271.8 L831.5,1273.6 L832.0,1275.4 L832.6,1277.6 L833.1,1279.3 L833.6,1281.1 L834.2,1283.3 L834.7,1285.0 L835.3,1287.1 L835.8,1288.8 L836.5,1290.9 L837.0,1292.6 L837.6,1294.7 L838.2,1296.7 L838.7,1298.3 L839.3,1300.4 L840.0,1302.4 L840.5,1304.0 L841.1,1306.0 L841.7,1308.1 L842.3,1310.0 L843.0,1312.0 L843.5,1313.6 L844.1,1315.5 L844.7,1317.4 L845.3,1319.3 L846.1,1321.4 L846.7,1323.2 L847.5,1325.2 L848.1,1326.9 L848.8,1328.8 L849.6,1330.6 L850.3,1332.4 L851.2,1334.4 L852.0,1336.1 L852.8,1338.0 L853.7,1339.9 L854.5,1341.5 L855.3,1343.3 L856.3,1345.2 L857.2,1346.9 L858.1,1348.6 L859.1,1350.4 L860.1,1352.1 L861.1,1353.8 L862.2,1355.6 L863.3,1357.3 L864.3,1358.8 L865.5,1360.5 L866.6,1362.1 L867.8,1363.9 L869.0,1365.5 L870.2,1367.1 L871.5,1368.7 L872.7,1370.2 L874.1,1371.7 L875.5,1373.1 L877.0,1374.4 L878.5,1375.6 L880.1,1376.9 L881.6,1378.0 L883.2,1379.2 L884.8,1380.4 L886.5,1381.6 L888.2,1382.7 L890.0,1383.7 L891.7,1384.6 L893.6,1385.3 L895.5,1385.9 L897.5,1386.2 L899.5,1386.3 L901.5,1386.1 L903.3,1385.8 L905.3,1385.4 L907.2,1384.8 L909.2,1384.2 L911.1,1383.5 L913.0,1382.8 L914.8,1382.1 L916.6,1381.3 L918.5,1380.5 L920.2,1379.4 L921.8,1378.3 L923.5,1377.1 L925.0,1375.9 L926.6,1374.6 L928.1,1373.3 L929.6,1372.1 L931.1,1370.7 L932.6,1369.3 L934.0,1368.0 L935.5,1366.5 L936.8,1365.1 L938.2,1363.7 L939.6,1362.2 L941.0,1360.7 L942.3,1359.2 L943.6,1357.8 L945.0,1356.3 L946.2,1354.8 L947.6,1353.2 L948.8,1351.7 L950.1,1350.1 L951.3,1348.6 L952.6,1347.0 L953.8,1345.4 L955.1,1343.7 L956.2,1342.3 L957.4,1340.6 L958.7,1339.0 L959.8,1337.5 L961.1,1335.9 L962.3,1334.2 L963.4,1332.6 L964.6,1331.1 L965.8,1329.4 L966.9,1327.8 L968.1,1326.2 L969.3,1324.5 L970.4,1322.9 L971.6,1321.3 L972.7,1319.7 L973.9,1317.9 L975.1,1316.4 L976.2,1314.8 L977.4,1313.0 L978.6,1311.4 L979.7,1309.8 L980.8,1308.2 L981.9,1306.6 L983.2,1304.8 L984.3,1303.2 L985.4,1301.6 L986.6,1300.1 L987.7,1298.5 L988.9,1296.7 L990.1,1295.2 L991.2,1293.6 L992.4,1291.9 L993.6,1290.4 L994.8,1288.6 L995.9,1287.1 L997.2,1285.4 L998.3,1283.9 L999.6,1282.2 L1000.7,1280.7 L1001.9,1279.0 L1003.2,1277.4 L1004.3,1275.9 L1005.6,1274.3 L1006.8,1272.7 L1008.1,1271.1 L1009.3,1269.5 L1010.6,1268.0 L1011.8,1266.4 L1013.1,1264.9 L1014.3,1263.4 L1015.6,1261.8 L1016.8,1260.3 L1018.2,1258.7 L1019.4,1257.3 L1020.8,1255.7 L1022.1,1254.2 L1023.4,1252.7 L1024.8,1251.2 L1026.1,1249.8 L1027.4,1248.3 L1028.8,1246.8 L1030.2,1245.4 L1031.6,1244.0 L1032.9,1242.6 L1034.4,1241.1 L1035.8,1239.8 L1037.3,1238.3 L1038.8,1236.9 L1040.2,1235.7 L1041.7,1234.3 L1043.2,1233.0 L1044.7,1231.7 L1046.3,1230.3 L1047.8,1229.2 L1049.4,1227.9 L1051.1,1226.6 L1052.6,1225.5 L1054.2,1224.4 L1055.9,1223.2 L1057.6,1222.2 L1059.3,1221.1 L1061.1,1220.1 L1062.7,1219.1 L1064.6,1218.1 L1066.3,1217.2 L1068.1,1216.4 L1069.9,1215.6 L1071.8,1214.8 L1073.7,1214.1 L1075.6,1213.4 L1077.4,1212.8 L1079.3,1212.3 L1081.3,1211.8 L1083.2,1211.4 L1085.2,1210.9 L1087.2,1210.5 L1089.2,1210.2 L1091.1,1210.1 L1093.1,1210.0 L1095.1,1210.0 L1097.1,1209.9 L1099.1,1209.9 L1101.1,1209.9 L1103.1,1209.9 L1105.1,1210.0 L1107.1,1210.2 L1109.1,1210.5 L1111.1,1210.9 L1113.1,1211.3 L1114.9,1211.6 L1116.9,1212.1 L1118.8,1212.6 L1120.8,1213.2 L1122.7,1213.8 L1124.6,1214.4 L1126.4,1215.1 L1128.3,1215.7 L1130.2,1216.5 L1132.1,1217.3 L1133.9,1218.1 L1135.7,1218.9 L1137.6,1219.8 L1139.3,1220.7 L1141.1,1221.6 L1142.8,1222.5 L1144.6,1223.5 L1146.3,1224.5 L1148.1,1225.6 L1149.8,1226.6 L1151.4,1227.6 L1153.2,1228.7 L1154.8,1229.8 L1156.4,1230.9 L1158.1,1232.0 L1159.8,1233.3 L1161.4,1234.4 L1162.9,1235.5 L1164.6,1236.7 L1166.2,1238.0 L1167.8,1239.2 L1169.3,1240.4 L1170.9,1241.7 L1172.4,1242.9 L1174.1,1244.3 L1175.6,1245.5 L1177.1,1246.8 L1178.6,1248.1 L1180.1,1249.4 L1181.6,1250.7 L1183.1,1252.1 L1184.6,1253.4 L1186.1,1254.8 L1187.4,1256.1 L1188.9,1257.5 L1190.4,1258.9 L1191.8,1260.2 L1193.3,1261.7 L1194.7,1263.0 L1196.2,1264.5 L1197.6,1265.8 L1199.1,1267.3 L1200.4,1268.7 L1201.8,1270.1 L1203.2,1271.5 L1204.7,1273.0 L1206.1,1274.4 L1207.4,1275.8 L1208.8,1277.3 L1210.2,1278.7 L1211.6,1280.2 L1212.9,1281.7 L1214.3,1283.2 L1215.6,1284.5 L1216.9,1286.0 L1218.3,1287.5 L1219.7,1289.1 L1220.9,1290.4 L1222.3,1292.0 L1223.7,1293.5 L1225.1,1295.0 L1226.3,1296.4 L1227.7,1298.0 L1228.9,1299.4 L1230.3,1300.9 L1231.7,1302.5 L1232.9,1303.9 L1234.3,1305.5 L1235.6,1307.0 L1236.8,1308.4 L1238.2,1310.0 L1239.4,1311.5 L1240.8,1313.1 L1242.1,1314.6 L1243.3,1316.0 L1244.7,1317.6 L1245.9,1319.1 L1247.3,1320.7 L1248.6,1322.2 L1249.8,1323.7 L1251.2,1325.3 L1252.4,1326.8 L1253.7,1328.3 L1255.1,1329.9 L1256.3,1331.4 L1257.6,1332.9 L1258.8,1334.4 L1260.2,1336.0 L1261.4,1337.5 L1262.7,1339.0 L1263.9,1340.5 L1265.3,1342.2 L1266.6,1343.7 L1267.8,1345.2 L1269.0,1346.6 L1270.4,1348.3 L1271.7,1349.8 L1272.9,1351.3 L1274.3,1352.9 L1275.5,1354.4 L1276.8,1355.9 L1278.0,1357.4 L1279.4,1359.0 L1280.7,1360.5 L1281.9,1362.0 L1283.3,1363.6 L1284.5,1365.1 L1285.8,1366.6 L1287.2,1368.2 L1288.4,1369.7 L1289.7,1371.2 L1291.0,1372.8 L1292.3,1374.2 L1293.7,1375.8 L1294.9,1377.3 L1296.2,1378.7 L1297.5,1380.3 L1298.8,1381.8 L1300.2,1383.3 L1301.4,1384.8 L1302.8,1386.3 L1304.0,1387.8 L1305.4,1389.3 L1306.8,1390.9 L1308.0,1392.3 L1309.4,1393.9 L1310.7,1395.3 L1312.0,1396.8 L1313.4,1398.3 L1314.8,1399.8 L1316.0,1401.2 L1317.4,1402.7 L1318.8,1404.2 L1320.2,1405.6 L1321.5,1407.1 L1322.9,1408.6 L1324.3,1410.0 L1325.7,1411.5 L1327.0,1412.9 L1328.4,1414.4 L1329.8,1415.8 L1331.2,1417.2 L1332.5,1418.7 L1333.9,1420.1 L1335.4,1421.6 L1336.8,1423.0 L1338.2,1424.4 L1339.7,1425.9 L1341.0,1427.2 L1342.4,1428.6 L1343.9,1430.0 L1345.3,1431.4 L1346.8,1432.9 L1348.2,1434.2 L1349.7,1435.6 L1351.0,1436.9 L1352.5,1438.4 L1353.9,1439.7 L1355.4,1441.1 L1356.9,1442.5 L1358.4,1443.9 L1359.8,1445.1 L1361.3,1446.5 L1362.8,1447.9 L1364.3,1449.2 L1365.8,1450.6 L1367.3,1451.9 L1368.8,1453.2 L1370.3,1454.6 L1371.8,1455.9 L1373.3,1457.2 L1374.8,1458.5 L1376.3,1459.8 L1377.8,1461.0 L1379.3,1462.3 L1380.9,1463.7 L1382.4,1464.9 L1383.9,1466.2 L1385.5,1467.5 L1387.0,1468.7 L1388.5,1469.9 L1390.2,1471.3 L1391.7,1472.5 L1393.3,1473.7 L1394.8,1474.9 L1396.4,1476.2 L1398.0,1477.5 L1399.5,1478.6 L1401.2,1479.9 L1402.8,1481.1 L1404.3,1482.2 L1405.9,1483.5 L1407.5,1484.7 L1409.2,1485.9 L1410.8,1487.1 L1412.4,1488.2 L1414.0,1489.4 L1415.7,1490.6 L1417.3,1491.7 L1418.9,1492.9 L1420.5,1494.0 L1422.2,1495.1 L1423.8,1496.3 L1425.5,1497.4 L1427.2,1498.5 L1428.8,1499.6 L1430.5,1500.8 L1432.2,1501.9 L1433.8,1502.9 L1435.5,1504.0 L1437.2,1505.1 L1438.9,1506.2 L1440.5,1507.2 L1442.3,1508.3 L1443.9,1509.3 L1445.7,1510.4 L1447.4,1511.5 L1449.0,1512.4 L1450.8,1513.5 L1452.5,1514.5 L1454.3,1515.5 L1456.0,1516.6 L1457.7,1517.5 L1459.4,1518.5 L1461.2,1519.5 L1462.9,1520.4 L1464.7,1521.4 L1466.4,1522.4 L1468.2,1523.3 L1469.9,1524.3 L1471.8,1525.3 L1473.5,1526.2 L1475.3,1527.1 L1477.0,1528.0 L1478.9,1528.9 L1480.7,1529.8 L1482.4,1530.7 L1484.2,1531.6 L1486.0,1532.5 L1487.8,1533.3 L1489.7,1534.2 L1491.4,1535.0 L1493.3,1535.9 L1495.0,1536.7 L1496.9,1537.6 L1498.7,1538.4 L1500.5,1539.2 L1502.4,1540.0 L1504.2,1540.8 L1506.0,1541.6 L1507.9,1542.4 L1509.7,1543.1 L1511.5,1543.9 L1513.4,1544.7 L1515.3,1545.4 L1517.2,1546.2 L1519.0,1546.9 L1520.8,1547.6 L1522.7,1548.3 L1524.5,1549.1 L1526.4,1549.8 L1528.3,1550.5 L1530.2,1551.2 L1532.0,1551.8 L1533.9,1552.5 L1535.8,1553.2 L1537.8,1553.9 L1539.7,1554.5 L1541.5,1555.1 L1543.4,1555.7 L1545.3,1556.3 L1547.3,1557.0 L1549.2,1557.6 L1551.0,1558.2 L1552.9,1558.8 L1554.9,1559.4 L1556.8,1560.0 L1558.7,1560.5 L1560.7,1561.1 L1562.5,1561.7 L1564.4,1562.2 L1566.4,1562.8 L1568.3,1563.3 L1570.3,1563.8 L1572.2,1564.3 L1574.2,1564.8 L1576.0,1565.3 L1578.0,1565.8 L1579.9,1566.3 L1581.9,1566.7 L1583.8,1567.2 L1585.8,1567.7 L1587.6,1568.1 L1589.6,1568.6 L1591.6,1569.0 L1593.5,1569.5 L1595.5,1569.9 L1597.4,1570.3 L1599.4,1570.7 L1601.4,1571.2 L1603.3,1571.5 L1605.3,1571.9 L1607.3,1572.3 L1609.3,1572.7 L1611.1,1573.1 L1613.1,1573.4 L1615.1,1573.8 L1617.1,1574.1 L1619.0,1574.4 L1621.0,1574.8 L1623.0,1575.1 L1625.0,1575.4 L1626.9,1575.7 L1628.9,1576.1 L1630.9,1576.4 L1632.9,1576.7 L1634.9,1577.0 L1636.9,1577.3 L1638.8,1577.5 L1640.8,1577.8 L1642.8,1578.1 L1644.8,1578.3 L1646.8,1578.6 L1648.8,1578.8 L1650.8,1579.1 L1652.8,1579.3 L1654.6,1579.5 L1656.6,1579.7 L1658.6,1579.9 L1660.6,1580.1 L1662.6,1580.3 L1664.6,1580.5 L1666.6,1580.7 L1668.6,1580.9 L1670.6,1581.1 L1672.6,1581.3 L1674.6,1581.5 L1676.6,1581.6 L1678.6,1581.8 L1680.6,1582.0 L1682.5,1582.1 L1684.5,1582.3 L1686.5,1582.4 L1688.5,1582.6 L1690.5,1582.7 L1692.5,1582.8 L1694.5,1582.9 L1696.5,1583.0 L1698.5,1583.2 L1700.5,1583.3 L1702.5,1583.4 L1704.5,1583.5 L1706.5,1583.6 L1708.5,1583.7 L1710.5,1583.8 L1712.5,1583.9 L1714.5,1584.0 L1716.5,1584.1 L1718.5,1584.2 L1720.5,1584.2 L1722.5,1584.3 L1724.5,1584.4 L1726.5,1584.4 L1728.5,1584.4 L1730.5,1584.5 L1732.5,1584.5 L1734.5,1584.5 L1736.5,1584.5 L1738.5,1584.5 L1740.5,1584.5 L1742.5,1584.5 L1744.5,1584.5 L1746.5,1584.6 L1748.5,1584.6 L1750.5,1584.6 L1752.5,1584.6 L1754.5,1584.6 L1756.5,1584.6 L1758.5,1584.6 L1760.5,1584.6 L1762.5,1584.6 L1764.5,1584.6 L1766.5,1584.6 L1768.5,1584.6 L1770.5,1584.6 L1772.5,1584.6 L1774.5,1584.6 L1776.5,1584.6 L1778.5,1584.7 L1780.5,1584.7 L1782.5,1584.7 L1784.5,1584.7 L1786.5,1584.7 L1788.5,1584.7 L1790.5,1584.7 L1792.5,1584.7 L1794.5,1584.7 L1796.5,1584.7 L1798.5,1584.7 L1800.5,1584.7 L1802.5,1584.8 L1804.5,1584.8 L1806.5,1584.8 L1808.5,1584.8 L1810.5,1584.8 L1812.5,1584.9 L1814.5,1584.9 L1816.5,1584.9 L1818.5,1584.9 L1820.5,1584.9 L1822.5,1585.0 L1824.5,1585.0 L1826.5,1585.0 L1828.5,1585.0 L1830.5,1585.1 L1832.5,1585.1 L1834.5,1585.1 L1836.5,1585.2 L1838.5,1585.2 L1840.5,1585.2 L1842.5,1585.3 L1844.5,1585.3 L1846.5,1585.3 L1848.5,1585.4 L1850.5,1585.4 L1852.5,1585.5 L1854.5,1585.5 L1856.5,1585.5 L1858.5,1585.6 L1860.5,1585.6 L1862.5,1585.7 L1864.5,1585.7 L1866.5,1585.7 L1868.5,1585.8 L1870.5,1585.8 L1872.5,1585.9 L1874.5,1585.9 L1876.5,1586.0 L1878.5,1586.0 L1880.5,1586.0 L1882.5,1586.1 L1884.5,1586.1 L1886.5,1586.2 L1888.5,1586.2 L1890.5,1586.3 L1891.0,1586.3" fill="none" stroke="#008000" stroke-width="10.5" stroke-linejoin="round"/>
<rect x="332.9" y="57.0" width="1559.1999999999998" height="1534.8" fill="none" stroke="#111" stroke-width="7"/>
<path d="M592.8,1591.8 V1561.8 M592.8,57.0 V87.0 M852.6,1591.8 V1561.8 M852.6,57.0 V87.0 M1112.5,1591.8 V1561.8 M1112.5,57.0 V87.0 M1372.4,1591.8 V1561.8 M1372.4,57.0 V87.0 M1632.2,1591.8 V1561.8 M1632.2,57.0 V87.0 M332.9,1372.5 H362.9 M1892.1,1372.5 H1862.1 M332.9,1153.3 H362.9 M1892.1,1153.3 H1862.1 M332.9,934.0 H362.9 M1892.1,934.0 H1862.1 M332.9,714.8 H362.9 M1892.1,714.8 H1862.1 M332.9,495.5 H362.9 M1892.1,495.5 H1862.1 M332.9,276.3 H362.9 M1892.1,276.3 H1862.1" stroke="#111" stroke-width="6.5" fill="none"/>
<rect x="1545" y="157" width="345.7" height="329" fill="#fff"/><rect x="1560" y="540" width="323" height="330" fill="#fff"/><rect x="1552" y="886" width="341.5" height="320" fill="#fff"/>
<defs>
<radialGradient id="gG" cx="0.38" cy="0.32" r="0.75">
 <stop offset="0" stop-color="#e4cc4c"/><stop offset="0.3" stop-color="#b89a2a"/>
 <stop offset="0.78" stop-color="#8e721e"/><stop offset="1" stop-color="#5c4914"/></radialGradient>
<radialGradient id="gB" cx="0.38" cy="0.32" r="0.75">
 <stop offset="0" stop-color="#7090dc"/><stop offset="0.3" stop-color="#2f52bc"/>
 <stop offset="0.8" stop-color="#213c9a"/><stop offset="1" stop-color="#152564"/></radialGradient>
<radialGradient id="gC" cx="0.35" cy="0.3" r="0.75">
 <stop offset="0" stop-color="#ffffff"/><stop offset="0.3" stop-color="#bdbdbd"/>
 <stop offset="1" stop-color="#4e4e4e"/></radialGradient>
<radialGradient id="gH" cx="0.35" cy="0.3" r="0.75">
 <stop offset="0" stop-color="#ffffff"/><stop offset="0.5" stop-color="#e4e4e4"/>
 <stop offset="1" stop-color="#8a8a8a"/></radialGradient>
<radialGradient id="gO" cx="0.35" cy="0.3" r="0.75">
 <stop offset="0" stop-color="#ff9a9a"/><stop offset="0.3" stop-color="#f21010"/>
 <stop offset="1" stop-color="#7a0000"/></radialGradient>
<radialGradient id="gR" cx="0.35" cy="0.3" r="0.75">
 <stop offset="0" stop-color="#ffcf70"/><stop offset="0.35" stop-color="#ee7a12"/>
 <stop offset="1" stop-color="#7a3c00"/></radialGradient>
<radialGradient id="gP" cx="0.35" cy="0.3" r="0.75">
 <stop offset="0" stop-color="#c489e6"/><stop offset="0.35" stop-color="#7a2c9c"/>
 <stop offset="1" stop-color="#361050"/></radialGradient>
<radialGradient id="gS" cx="0.35" cy="0.3" r="0.75">
 <stop offset="0" stop-color="#fff38a"/><stop offset="0.35" stop-color="#f0d018"/>
 <stop offset="1" stop-color="#8a6c08"/></radialGradient>
<radialGradient id="gN" cx="0.35" cy="0.3" r="0.75">
 <stop offset="0" stop-color="#e6ecff"/><stop offset="0.35" stop-color="#8296c8"/>
 <stop offset="1" stop-color="#34406a"/></radialGradient>
</defs>
<path d="M947.5,193.1 L985.7,193.1 M985.7,193.1 L1003,225.2 M1003,225.2 L984.5,258.5 M984.5,258.5 L947.5,258.5 M947.5,258.5 L929,226.4 M929,226.4 L947.5,193.1 M947.5,193.1 L936.4,169.7 M985.7,193.1 L1000.5,168.5 M929,226.4 L900.7,228.9 M1003,225.2 L1032.6,227.7 M947.5,258.5 L926,290 M984.5,258.5 L1006,290 M893,292 L926,290 M1040,290 L1006,290 M950,326 L975,326 M844,414 L819.3,394 M844,414 L844,449.6 M844,449.6 L819.3,457 M844,414 L870,405 M898,414 L905,420 M1087,415 L1111.5,389 M1111.5,389 L1135,402.7 M1087,415 L1092.3,447.7 M1035,414 L1045,404" stroke="#5a5a5a" stroke-width="2.6" fill="none" stroke-linecap="round"/><circle cx="984" cy="384" r="13" fill="url(#gG)" stroke="#4a3c10" stroke-opacity="0.55" stroke-width="1.3"/><ellipse cx="962.3" cy="389" rx="20" ry="21" fill="url(#gB)" stroke="#0e1a55" stroke-opacity="0.55" stroke-width="1.3"/><ellipse cx="937.7" cy="332.4" rx="25.9" ry="48" fill="url(#gG)" transform="rotate(-3 937.7 332.4)" stroke="#4a3c10" stroke-opacity="0.55" stroke-width="1.3"/><ellipse cx="996.2" cy="331.2" rx="26.5" ry="45.6" fill="url(#gB)" transform="rotate(-8 996.2 331.2)" stroke="#0e1a55" stroke-opacity="0.55" stroke-width="1.3"/><path d="M870,352 C885,340 905,345 907,365 C910,392 900,418 878,421 C862,423 848,418 846,412 C858,400 860,370 870,352 Z" fill="url(#gB)" stroke="#0e1a55" stroke-opacity="0.55" stroke-width="1.3"/><path d="M1030,350 C1045,338 1070,342 1078,360 C1088,382 1092,404 1089,418 C1075,420 1050,418 1038,408 C1025,395 1022,362 1030,350 Z" fill="url(#gG)" stroke="#4a3c10" stroke-opacity="0.55" stroke-width="1.3"/><ellipse cx="919.8" cy="431" rx="30" ry="32" fill="url(#gG)" stroke="#4a3c10" stroke-opacity="0.55" stroke-width="1.3"/><ellipse cx="1012.9" cy="434" rx="29.5" ry="30" fill="url(#gB)" stroke="#0e1a55" stroke-opacity="0.55" stroke-width="1.3"/><ellipse cx="893.9" cy="291.8" rx="15.4" ry="18.5" fill="url(#gB)" stroke="#0e1a55" stroke-opacity="0.55" stroke-width="1.3"/><circle cx="891" cy="290" r="7" fill="url(#gP)"/><ellipse cx="1040" cy="290" rx="17.3" ry="19" fill="url(#gG)" stroke="#4a3c10" stroke-opacity="0.55" stroke-width="1.3"/><circle cx="1041" cy="289" r="9" fill="url(#gR)"/><circle cx="819.3" cy="394" r="14" fill="url(#gR)"/><circle cx="844" cy="413.8" r="8" fill="url(#gC)"/><circle cx="844" cy="449.6" r="10" fill="url(#gO)"/><circle cx="819.3" cy="457" r="6" fill="url(#gH)"/><circle cx="1111.5" cy="389" r="10" fill="url(#gP)"/><circle cx="1135" cy="402.7" r="6" fill="url(#gH)"/><circle cx="1086.8" cy="415" r="8" fill="url(#gC)"/><circle cx="1092.3" cy="447.7" r="10.5" fill="url(#gP)"/><circle cx="947.5" cy="193.1" r="9.5" fill="url(#gC)"/><circle cx="985.7" cy="193.1" r="9.5" fill="url(#gC)"/><circle cx="1003" cy="225.2" r="9.5" fill="url(#gC)"/><circle cx="984.5" cy="258.5" r="9.5" fill="url(#gC)"/><circle cx="947.5" cy="258.5" r="9.5" fill="url(#gC)"/><circle cx="929" cy="226.4" r="9.5" fill="url(#gC)"/><circle cx="936.4" cy="169.7" r="5.8" fill="url(#gH)"/><circle cx="1000.5" cy="168.5" r="5.8" fill="url(#gH)"/><circle cx="900.7" cy="228.9" r="5.8" fill="url(#gH)"/><circle cx="1032.6" cy="227.7" r="5.8" fill="url(#gH)"/><circle cx="961" cy="418.7" r="5" fill="url(#gH)"/><circle cx="971" cy="418.7" r="5" fill="url(#gH)"/><circle cx="998" cy="392.8" r="5" fill="url(#gH)"/><circle cx="873" cy="345" r="5" fill="url(#gH)"/><circle cx="1064" cy="341" r="5" fill="url(#gH)"/>
<g transform="translate(98.4 738.1) scale(0.965)"><path d="M947.5,193.1 L985.7,193.1 M985.7,193.1 L1003,225.2 M1003,225.2 L984.5,258.5 M984.5,258.5 L947.5,258.5 M947.5,258.5 L929,226.4 M929,226.4 L947.5,193.1 M947.5,193.1 L936.4,169.7 M985.7,193.1 L1000.5,168.5 M929,226.4 L900.7,228.9 M1003,225.2 L1032.6,227.7 M947.5,258.5 L926,290 M984.5,258.5 L1006,290 M893,292 L926,290 M1040,290 L1006,290 M950,326 L975,326 M844,414 L819.3,394 M844,414 L844,449.6 M844,449.6 L819.3,457 M844,414 L870,405 M898,414 L905,420 M1087,415 L1111.5,389 M1111.5,389 L1135,402.7 M1087,415 L1092.3,447.7 M1035,414 L1045,404" stroke="#5a5a5a" stroke-width="2.6" fill="none" stroke-linecap="round"/><circle cx="984" cy="384" r="13" fill="url(#gG)" stroke="#4a3c10" stroke-opacity="0.55" stroke-width="1.3"/><ellipse cx="962.3" cy="389" rx="20" ry="21" fill="url(#gB)" stroke="#0e1a55" stroke-opacity="0.55" stroke-width="1.3"/><ellipse cx="937.7" cy="332.4" rx="25.9" ry="48" fill="url(#gG)" transform="rotate(-3 937.7 332.4)" stroke="#4a3c10" stroke-opacity="0.55" stroke-width="1.3"/><ellipse cx="996.2" cy="331.2" rx="26.5" ry="45.6" fill="url(#gB)" transform="rotate(-8 996.2 331.2)" stroke="#0e1a55" stroke-opacity="0.55" stroke-width="1.3"/><path d="M870,352 C885,340 905,345 907,365 C910,392 900,418 878,421 C862,423 848,418 846,412 C858,400 860,370 870,352 Z" fill="url(#gB)" stroke="#0e1a55" stroke-opacity="0.55" stroke-width="1.3"/><path d="M1030,350 C1045,338 1070,342 1078,360 C1088,382 1092,404 1089,418 C1075,420 1050,418 1038,408 C1025,395 1022,362 1030,350 Z" fill="url(#gG)" stroke="#4a3c10" stroke-opacity="0.55" stroke-width="1.3"/><ellipse cx="919.8" cy="431" rx="30" ry="32" fill="url(#gG)" stroke="#4a3c10" stroke-opacity="0.55" stroke-width="1.3"/><ellipse cx="1012.9" cy="434" rx="29.5" ry="30" fill="url(#gB)" stroke="#0e1a55" stroke-opacity="0.55" stroke-width="1.3"/><ellipse cx="893.9" cy="291.8" rx="15.4" ry="18.5" fill="url(#gB)" stroke="#0e1a55" stroke-opacity="0.55" stroke-width="1.3"/><circle cx="891" cy="290" r="7" fill="url(#gP)"/><ellipse cx="1040" cy="290" rx="17.3" ry="19" fill="url(#gG)" stroke="#4a3c10" stroke-opacity="0.55" stroke-width="1.3"/><circle cx="1041" cy="289" r="9" fill="url(#gR)"/><circle cx="819.3" cy="394" r="14" fill="url(#gR)"/><circle cx="844" cy="413.8" r="8" fill="url(#gC)"/><circle cx="844" cy="449.6" r="10" fill="url(#gO)"/><circle cx="819.3" cy="457" r="6" fill="url(#gH)"/><circle cx="1111.5" cy="389" r="10" fill="url(#gP)"/><circle cx="1135" cy="402.7" r="6" fill="url(#gH)"/><circle cx="1086.8" cy="415" r="8" fill="url(#gC)"/><circle cx="1092.3" cy="447.7" r="10.5" fill="url(#gP)"/><circle cx="947.5" cy="193.1" r="9.5" fill="url(#gC)"/><circle cx="985.7" cy="193.1" r="9.5" fill="url(#gC)"/><circle cx="1003" cy="225.2" r="9.5" fill="url(#gC)"/><circle cx="984.5" cy="258.5" r="9.5" fill="url(#gC)"/><circle cx="947.5" cy="258.5" r="9.5" fill="url(#gC)"/><circle cx="929" cy="226.4" r="9.5" fill="url(#gC)"/><circle cx="936.4" cy="169.7" r="5.8" fill="url(#gH)"/><circle cx="1000.5" cy="168.5" r="5.8" fill="url(#gH)"/><circle cx="900.7" cy="228.9" r="5.8" fill="url(#gH)"/><circle cx="1032.6" cy="227.7" r="5.8" fill="url(#gH)"/><circle cx="961" cy="418.7" r="5" fill="url(#gH)"/><circle cx="971" cy="418.7" r="5" fill="url(#gH)"/><circle cx="998" cy="392.8" r="5" fill="url(#gH)"/><circle cx="873" cy="345" r="5" fill="url(#gH)"/><circle cx="1064" cy="341" r="5" fill="url(#gH)"/></g>
<path d="M1707,195 L1719,195 M1686,234 L1690,244 M1738,234 L1735,244 M1707,259 L1719,259 M1707,326 L1719,326 M1684,336 L1680,346 M1741,336 L1745,346 M1635,377 L1637,389 M1645,414 L1656,424 M1676,416 L1692,401 M1750,416 L1734,401 M1783,414 L1770,424 M1578,400 L1585,405 M1590,440 L1590,426 M1590,450 L1565,458 M1840,397 L1857,390 M1857,390 L1880,403 M1835,428 L1838,440 M1659,234 L1648,229.5 M1766,232 L1779,227 M1682,175 L1681.7,168.5 M1745,175 L1748,168.5" stroke="#5a5a5a" stroke-width="2.6" fill="none" stroke-linecap="round"/><ellipse cx="1713" cy="393" rx="25" ry="12" fill="url(#gG)" stroke="#4a3c10" stroke-opacity="0.55" stroke-width="1.3"/><circle cx="1697.3" cy="390.5" r="9" fill="url(#gC)"/><circle cx="1728.5" cy="390.5" r="9" fill="url(#gC)"/><circle cx="1705" cy="372.3" r="6" fill="url(#gH)"/><circle cx="1723.3" cy="369.7" r="6" fill="url(#gH)"/><circle cx="1679" cy="393" r="6" fill="url(#gH)"/><circle cx="1746.6" cy="393" r="6" fill="url(#gH)"/><circle cx="1705" cy="419" r="6" fill="url(#gH)"/><circle cx="1720.7" cy="419" r="6" fill="url(#gH)"/><ellipse cx="1683.7" cy="204.9" rx="22" ry="31" fill="url(#gB)" transform="rotate(25 1683.7 204.9)" stroke="#0e1a55" stroke-opacity="0.55" stroke-width="1.3"/><ellipse cx="1742" cy="205.5" rx="22" ry="31" fill="url(#gG)" transform="rotate(-25 1742 205.5)" stroke="#4a3c10" stroke-opacity="0.55" stroke-width="1.3"/><path d="M1700.0,291.0 C1700.0,293.8 1700.3,296.7 1700.6,299.4 C1700.8,302.2 1701.3,305.0 1701.6,307.6 C1701.8,310.3 1702.0,312.9 1701.9,315.3 C1701.8,317.7 1701.5,320.1 1701.0,322.2 C1700.5,324.4 1699.7,326.4 1698.8,328.2 C1698.0,330.0 1696.9,331.7 1695.9,333.1 C1694.8,334.5 1693.5,335.7 1692.3,336.7 C1691.1,337.6 1689.7,338.4 1688.4,338.9 C1687.1,339.4 1685.7,339.6 1684.4,339.6 C1683.0,339.6 1681.7,339.4 1680.4,338.9 C1679.1,338.4 1677.7,337.6 1676.5,336.7 C1675.2,335.7 1673.9,334.5 1672.8,333.1 C1671.6,331.7 1670.4,330.0 1669.4,328.2 C1668.4,326.4 1667.4,324.4 1666.5,322.2 C1665.6,320.1 1664.8,317.7 1664.1,315.3 C1663.5,312.9 1662.9,310.3 1662.4,307.6 C1662.0,305.0 1661.6,302.2 1661.4,299.4 C1661.1,296.7 1661.0,293.8 1661.0,291.0 C1661.0,288.2 1661.1,285.3 1661.4,282.6 C1661.6,279.8 1662.0,277.0 1662.4,274.4 C1662.9,271.7 1663.5,269.1 1664.1,266.7 C1664.8,264.3 1665.6,261.9 1666.5,259.8 C1667.4,257.6 1668.4,255.6 1669.4,253.8 C1670.4,252.0 1671.6,250.3 1672.8,248.9 C1673.9,247.5 1675.2,246.3 1676.5,245.3 C1677.7,244.4 1679.1,243.6 1680.4,243.1 C1681.8,242.6 1683.2,242.4 1684.5,242.4 C1685.8,242.4 1687.1,242.6 1688.4,243.1 C1689.7,243.6 1691.1,244.4 1692.3,245.3 C1693.5,246.3 1694.8,247.5 1695.9,248.9 C1696.9,250.3 1698.0,252.0 1698.8,253.8 C1699.7,255.6 1700.5,257.6 1701.0,259.8 C1701.5,261.9 1701.8,264.3 1701.9,266.7 C1702.0,269.1 1701.8,271.7 1701.6,274.4 C1701.3,277.0 1700.8,279.8 1700.6,282.6 C1700.3,285.3 1700.0,288.2 1700.0,291.0 Z" fill="url(#gG)" stroke="#4a3c10" stroke-opacity="0.55" stroke-width="1.3"/><path d="M1765.5,291.0 C1765.5,293.7 1765.4,296.5 1765.1,299.2 C1764.9,301.9 1764.5,304.6 1764.1,307.2 C1763.6,309.8 1763.0,312.3 1762.3,314.7 C1761.6,317.1 1760.8,319.4 1759.9,321.5 C1759.0,323.6 1758.0,325.5 1756.9,327.3 C1755.9,329.1 1754.7,330.7 1753.5,332.0 C1752.3,333.4 1751.0,334.6 1749.7,335.5 C1748.4,336.5 1747.0,337.2 1745.7,337.7 C1744.3,338.2 1742.9,338.4 1741.5,338.4 C1740.1,338.4 1738.8,338.2 1737.5,337.7 C1736.2,337.2 1734.8,336.5 1733.5,335.5 C1732.3,334.6 1731.0,333.4 1729.9,332.0 C1728.8,330.7 1727.7,329.1 1726.8,327.3 C1726.0,325.5 1725.2,323.6 1724.6,321.5 C1724.1,319.4 1723.8,317.1 1723.7,314.7 C1723.5,312.3 1723.7,309.8 1724.0,307.2 C1724.2,304.6 1724.7,301.9 1725.0,299.2 C1725.2,296.5 1725.5,293.7 1725.5,291.0 C1725.5,288.3 1725.2,285.5 1725.0,282.8 C1724.7,280.1 1724.2,277.4 1724.0,274.8 C1723.7,272.2 1723.5,269.7 1723.7,267.3 C1723.8,264.9 1724.1,262.6 1724.6,260.5 C1725.2,258.4 1726.0,256.5 1726.8,254.7 C1727.7,252.9 1728.8,251.3 1729.9,250.0 C1731.0,248.6 1732.3,247.4 1733.5,246.5 C1734.8,245.5 1736.1,244.8 1737.5,244.3 C1738.9,243.8 1740.3,243.6 1741.6,243.6 C1743.0,243.6 1744.3,243.8 1745.7,244.3 C1747.0,244.8 1748.4,245.5 1749.7,246.5 C1751.0,247.4 1752.3,248.6 1753.5,250.0 C1754.7,251.3 1755.9,252.9 1756.9,254.7 C1758.0,256.5 1759.0,258.4 1759.9,260.5 C1760.8,262.6 1761.6,264.9 1762.3,267.3 C1763.0,269.7 1763.6,272.2 1764.1,274.8 C1764.5,277.4 1764.9,280.1 1765.1,282.8 C1765.4,285.5 1765.5,288.3 1765.5,291.0 Z" fill="url(#gB)" stroke="#0e1a55" stroke-opacity="0.55" stroke-width="1.3"/><ellipse cx="1635" cy="292.5" rx="20.8" ry="24" fill="url(#gB)" stroke="#0e1a55" stroke-opacity="0.55" stroke-width="1.3"/><circle cx="1633" cy="292" r="8" fill="url(#gP)"/><ellipse cx="1790.8" cy="291.2" rx="22" ry="24" fill="url(#gG)" stroke="#4a3c10" stroke-opacity="0.55" stroke-width="1.3"/><circle cx="1791" cy="291" r="10" fill="url(#gR)"/><ellipse cx="1656.4" cy="363.2" rx="34.4" ry="20.8" fill="url(#gB)" transform="rotate(5 1656.4 363.2)" stroke="#0e1a55" stroke-opacity="0.55" stroke-width="1.3"/><ellipse cx="1768" cy="362.5" rx="33" ry="20" fill="url(#gG)" transform="rotate(-5 1768 362.5)" stroke="#4a3c10" stroke-opacity="0.55" stroke-width="1.3"/><ellipse cx="1613" cy="405.4" rx="32.5" ry="21.4" fill="url(#gG)" transform="rotate(-12 1613 405.4)" stroke="#4a3c10" stroke-opacity="0.55" stroke-width="1.3"/><ellipse cx="1812.2" cy="406.7" rx="30.5" ry="21.4" fill="url(#gB)" transform="rotate(15 1812.2 406.7)" stroke="#0e1a55" stroke-opacity="0.55" stroke-width="1.3"/><circle cx="1564.2" cy="393" r="13.6" fill="url(#gP)"/><circle cx="1589.6" cy="450.2" r="10.4" fill="url(#gP)"/><circle cx="1564.9" cy="458" r="6" fill="url(#gH)"/><ellipse cx="1670" cy="432" rx="13" ry="15.6" fill="url(#gB)" stroke="#0e1a55" stroke-opacity="0.55" stroke-width="1.3"/><ellipse cx="1757" cy="431.3" rx="14.3" ry="15" fill="url(#gG)" stroke="#4a3c10" stroke-opacity="0.55" stroke-width="1.3"/><circle cx="1857.6" cy="390.5" r="10.5" fill="url(#gR)"/><circle cx="1880.3" cy="403.4" r="6" fill="url(#gH)"/><circle cx="1838.8" cy="448.9" r="14" fill="url(#gR)"/><circle cx="1681.7" cy="168.5" r="6" fill="url(#gH)"/><circle cx="1748" cy="168.5" r="6" fill="url(#gH)"/><circle cx="1648" cy="229.5" r="6" fill="url(#gH)"/><circle cx="1779" cy="227" r="6" fill="url(#gH)"/><circle cx="1618.1" cy="345" r="6" fill="url(#gH)"/><circle cx="1808.9" cy="343.7" r="6" fill="url(#gH)"/>
<path d="M968.3,583.7 L1004.8,583.7 M1004.8,583.7 L1024,614.4 M1024,614.4 L1004.8,646.1 M1004.8,646.1 L967.4,646.1 M967.4,646.1 L949.1,614.4 M949.1,614.4 L968.3,583.7 M968.3,583.7 L954.9,558.8 M1004.8,583.7 L1022,557.8 M949.1,614.4 L921.3,618.3 M1024,614.4 L1054.7,616.4 M967.4,646.1 L948.2,682.6 M1004.8,646.1 L1026.8,679.7 M948.2,682.6 L915.5,682.6 M1026.8,679.7 L1057.5,681.6" stroke="#5a5a5a" stroke-width="2.6" fill="none" stroke-linecap="round"/><path d="M944,683 L975,690 L968,712 L948,712 Z" fill="url(#gG)" stroke="#4a3c10" stroke-opacity="0.55" stroke-width="1.3"/><ellipse cx="900" cy="778" rx="34" ry="30" fill="url(#gG)" transform="rotate(-30 900 778)" stroke="#4a3c10" stroke-opacity="0.55" stroke-width="1.3"/><ellipse cx="912" cy="800" rx="24" ry="36" fill="url(#gB)" transform="rotate(10 912 800)" stroke="#0e1a55" stroke-opacity="0.55" stroke-width="1.3"/><ellipse cx="966" cy="770" rx="32" ry="36" fill="url(#gG)" stroke="#4a3c10" stroke-opacity="0.55" stroke-width="1.3"/><ellipse cx="1014" cy="775" rx="22" ry="33" fill="url(#gB)" stroke="#0e1a55" stroke-opacity="0.55" stroke-width="1.3"/><ellipse cx="1041" cy="778" rx="24" ry="55" fill="url(#gG)" transform="rotate(-10 1041 778)" stroke="#4a3c10" stroke-opacity="0.55" stroke-width="1.3"/><ellipse cx="1085" cy="783" rx="26" ry="34" fill="url(#gB)" stroke="#0e1a55" stroke-opacity="0.55" stroke-width="1.3"/><path d="M913.6,729.6 C916.1,726.4 922.3,723.9 929.0,720.0 C935.7,716.1 944.9,710.7 953.9,706.5 C962.9,702.3 973.1,698.2 982.7,695.0 C992.3,691.8 1003.6,689.5 1011.5,687.4 C1019.4,685.3 1025.9,682.8 1030.0,682.6 C1034.1,682.4 1036.7,682.0 1036.0,686.0 C1035.3,690.0 1029.7,699.9 1026.0,706.5 C1022.3,713.1 1018.0,720.9 1014.0,725.7 C1010.0,730.5 1008.7,733.5 1001.9,735.3 C995.1,737.1 982.7,735.9 973.1,736.5 C963.5,737.1 952.3,738.0 944.3,739.2 C936.3,740.4 930.1,743.5 925.1,743.5 C920.1,743.5 915.9,741.3 914.0,739.0 C912.1,736.7 911.1,732.8 913.6,729.6 Z" fill="url(#gB)" stroke="#0e1a55" stroke-opacity="0.55" stroke-width="1.3"/><circle cx="917.5" cy="752.6" r="9" fill="url(#gC)"/><circle cx="957.8" cy="733.4" r="5" fill="url(#gH)"/><circle cx="982.7" cy="746.8" r="5" fill="url(#gH)"/><circle cx="1001.9" cy="768" r="5" fill="url(#gH)"/><circle cx="854" cy="787" r="14" fill="url(#gB)" stroke="#0e1a55" stroke-opacity="0.55" stroke-width="1.3"/><circle cx="860" cy="788" r="6" fill="url(#gO)"/><circle cx="856" cy="835" r="12" fill="url(#gB)" stroke="#0e1a55" stroke-opacity="0.55" stroke-width="1.3"/><circle cx="862" cy="834" r="7" fill="url(#gO)"/><circle cx="841.7" cy="848.6" r="6" fill="url(#gH)"/><circle cx="1126.5" cy="823.5" r="13" fill="url(#gG)" stroke="#4a3c10" stroke-opacity="0.55" stroke-width="1.3"/><circle cx="1108.4" cy="840.8" r="15" fill="url(#gB)" stroke="#0e1a55" stroke-opacity="0.55" stroke-width="1.3"/><circle cx="1113" cy="836" r="5" fill="url(#gO)"/><circle cx="1129.5" cy="800.6" r="6" fill="url(#gH)"/><circle cx="1117" cy="783.3" r="9" fill="url(#gR)"/><circle cx="968.3" cy="583.7" r="9.5" fill="url(#gN)"/><circle cx="1004.8" cy="583.7" r="9.5" fill="url(#gN)"/><circle cx="949.1" cy="614.4" r="9.5" fill="url(#gC)"/><circle cx="1024" cy="614.4" r="9.5" fill="url(#gC)"/><circle cx="967.4" cy="646.1" r="9.5" fill="url(#gG)"/><circle cx="1004.8" cy="646.1" r="9.5" fill="url(#gG)"/><circle cx="948.2" cy="682.6" r="9.5" fill="url(#gC)"/><circle cx="1026.8" cy="679.7" r="9.5" fill="url(#gC)"/><circle cx="954.9" cy="558.8" r="6" fill="url(#gH)"/><circle cx="1022" cy="557.8" r="6" fill="url(#gH)"/><circle cx="921.3" cy="618.3" r="6" fill="url(#gH)"/><circle cx="1054.7" cy="616.4" r="6" fill="url(#gH)"/><circle cx="915.5" cy="682.6" r="10" fill="url(#gO)"/><circle cx="1057.5" cy="681.6" r="10" fill="url(#gO)"/>
<path d="M1711,586 L1726,586 M1714,652 L1723,652 M1714,719 L1723,719 M1697,628 L1703,640 M1740,628 L1734,640 M1662,685 L1668,685 M1769,685 L1775,685 M1594,796 L1605.7,810.2 M1605.7,810.2 L1591.3,839 M1591.3,839 L1573,848.6 M1605.7,810.2 L1630.6,792.9 M1630.6,792.9 L1646.9,811.1 M1646.9,811.1 L1684.3,775.6 M1630.6,792.9 L1649.8,760.3 M1649.8,760.3 L1676.7,750.7 M1676.7,750.7 L1701.6,775.6 M1701.6,775.6 L1735.2,777.6 M1735.2,777.6 L1764,764.1 M1764,764.1 L1787,760.3 M1839.8,790 L1832.1,810.2 M1832.1,810.2 L1846.5,837 M1832.1,810.2 L1804.3,791 M1804.3,791 L1788.9,811.1 M1788.9,811.1 L1757.3,785.2 M1804.3,791 L1787,760.3 M1839.8,790 L1860.9,806.3 M1686,570 L1686.2,561.7 M1752,570 L1754.4,560.7" stroke="#5a5a5a" stroke-width="2.6" fill="none" stroke-linecap="round"/><ellipse cx="1688.2" cy="598.1" rx="21" ry="31" fill="url(#gG)" transform="rotate(25 1688.2 598.1)" stroke="#4a3c10" stroke-opacity="0.55" stroke-width="1.3"/><ellipse cx="1749.1" cy="597.6" rx="21" ry="31" fill="url(#gB)" transform="rotate(-25 1749.1 597.6)" stroke="#0e1a55" stroke-opacity="0.55" stroke-width="1.3"/><path d="M1706.5,691.6 C1706.5,694.7 1706.8,697.8 1707.1,700.8 C1707.3,703.8 1707.9,706.8 1708.1,709.7 C1708.3,712.6 1708.6,715.4 1708.5,718.1 C1708.4,720.8 1708.1,723.3 1707.6,725.7 C1707.1,728.0 1706.3,730.2 1705.5,732.2 C1704.7,734.2 1703.7,736.0 1702.6,737.5 C1701.5,739.0 1700.3,740.4 1699.1,741.4 C1697.9,742.5 1696.6,743.3 1695.3,743.8 C1694.0,744.3 1692.7,744.6 1691.4,744.6 C1690.0,744.6 1688.8,744.3 1687.5,743.8 C1686.2,743.3 1684.9,742.5 1683.6,741.4 C1682.4,740.4 1681.2,739.0 1680.0,737.5 C1678.8,736.0 1677.7,734.2 1676.7,732.2 C1675.7,730.2 1674.7,728.0 1673.9,725.7 C1673.0,723.3 1672.2,720.8 1671.6,718.1 C1670.9,715.4 1670.3,712.6 1669.9,709.7 C1669.4,706.8 1669.1,703.8 1668.8,700.8 C1668.6,697.8 1668.5,694.7 1668.5,691.6 C1668.5,688.5 1668.6,685.4 1668.8,682.4 C1669.1,679.4 1669.4,676.4 1669.9,673.5 C1670.3,670.6 1670.9,667.8 1671.6,665.1 C1672.2,662.4 1673.0,659.9 1673.9,657.5 C1674.7,655.2 1675.7,653.0 1676.7,651.0 C1677.7,649.0 1678.8,647.2 1680.0,645.7 C1681.2,644.2 1682.4,642.8 1683.6,641.8 C1684.9,640.7 1686.2,639.9 1687.5,639.4 C1688.8,638.9 1690.2,638.6 1691.5,638.6 C1692.8,638.6 1694.1,638.9 1695.3,639.4 C1696.6,639.9 1697.9,640.7 1699.1,641.8 C1700.3,642.8 1701.5,644.2 1702.6,645.7 C1703.7,647.2 1704.7,649.0 1705.5,651.0 C1706.3,653.0 1707.1,655.2 1707.6,657.5 C1708.1,659.9 1708.4,662.4 1708.5,665.1 C1708.6,667.8 1708.3,670.6 1708.1,673.5 C1707.9,676.4 1707.3,679.4 1707.1,682.4 C1706.8,685.4 1706.5,688.5 1706.5,691.6 Z" fill="url(#gB)" stroke="#0e1a55" stroke-opacity="0.55" stroke-width="1.3"/><path d="M1769.2,691.7 C1769.2,694.7 1769.1,697.8 1768.8,700.8 C1768.6,703.8 1768.2,706.7 1767.8,709.6 C1767.3,712.4 1766.7,715.2 1766.1,717.9 C1765.4,720.5 1764.6,723.0 1763.7,725.3 C1762.8,727.6 1761.8,729.8 1760.8,731.8 C1759.8,733.7 1758.6,735.5 1757.5,737.0 C1756.3,738.5 1755.0,739.8 1753.7,740.8 C1752.5,741.9 1751.1,742.7 1749.8,743.2 C1748.4,743.7 1747.0,744.0 1745.7,744.0 C1744.4,744.0 1743.1,743.7 1741.8,743.2 C1740.5,742.7 1739.1,741.9 1737.9,740.8 C1736.7,739.8 1735.4,738.5 1734.3,737.0 C1733.3,735.5 1732.2,733.7 1731.4,731.8 C1730.5,729.8 1729.7,727.6 1729.2,725.3 C1728.7,723.0 1728.4,720.5 1728.3,717.9 C1728.2,715.2 1728.4,712.4 1728.6,709.6 C1728.9,706.7 1729.4,703.8 1729.6,700.8 C1729.9,697.8 1730.2,694.7 1730.2,691.7 C1730.2,688.7 1729.9,685.6 1729.6,682.6 C1729.4,679.6 1728.9,676.7 1728.6,673.8 C1728.4,671.0 1728.2,668.2 1728.3,665.6 C1728.4,662.9 1728.7,660.4 1729.2,658.1 C1729.7,655.8 1730.5,653.6 1731.4,651.6 C1732.2,649.7 1733.3,647.9 1734.3,646.4 C1735.4,644.9 1736.7,643.6 1737.9,642.6 C1739.1,641.5 1740.5,640.7 1741.8,640.2 C1743.1,639.7 1744.5,639.4 1745.8,639.4 C1747.2,639.4 1748.5,639.7 1749.8,640.2 C1751.1,640.7 1752.5,641.5 1753.7,642.6 C1755.0,643.6 1756.3,644.9 1757.5,646.4 C1758.6,647.9 1759.8,649.7 1760.8,651.6 C1761.8,653.6 1762.8,655.8 1763.7,658.1 C1764.6,660.4 1765.4,662.9 1766.1,665.6 C1766.7,668.2 1767.3,671.0 1767.8,673.8 C1768.2,676.7 1768.6,679.6 1768.8,682.6 C1769.1,685.6 1769.2,688.7 1769.2,691.7 Z" fill="url(#gG)" stroke="#4a3c10" stroke-opacity="0.55" stroke-width="1.3"/><ellipse cx="1640.2" cy="685.5" rx="22" ry="25" fill="url(#gG)" stroke="#4a3c10" stroke-opacity="0.55" stroke-width="1.3"/><circle cx="1641" cy="685" r="10" fill="url(#gR)"/><ellipse cx="1796.6" cy="685.5" rx="22" ry="25" fill="url(#gB)" stroke="#0e1a55" stroke-opacity="0.55" stroke-width="1.3"/><circle cx="1795" cy="684" r="8" fill="url(#gP)"/><circle cx="1649.8" cy="760.3" r="9" fill="url(#gC)"/><circle cx="1701.6" cy="775.6" r="9" fill="url(#gC)"/><circle cx="1735.2" cy="777.6" r="9" fill="url(#gC)"/><circle cx="1787" cy="760.3" r="9" fill="url(#gC)"/><circle cx="1757.3" cy="785.2" r="9" fill="url(#gC)"/><circle cx="1630.6" cy="792.9" r="9" fill="url(#gC)"/><circle cx="1804.3" cy="791" r="9" fill="url(#gC)"/><circle cx="1605.7" cy="810.2" r="9" fill="url(#gC)"/><circle cx="1832.1" cy="810.2" r="9" fill="url(#gC)"/><circle cx="1674" cy="757" r="11" fill="url(#gG)" stroke="#4a3c10" stroke-opacity="0.55" stroke-width="1.3"/><circle cx="1684.3" cy="785.2" r="9" fill="url(#gG)"/><circle cx="1764" cy="764.1" r="12" fill="url(#gB)" stroke="#0e1a55" stroke-opacity="0.55" stroke-width="1.3"/><circle cx="1646" cy="745" r="6" fill="url(#gH)"/><circle cx="1711.2" cy="748.8" r="6" fill="url(#gH)"/><circle cx="1727.5" cy="750.7" r="6" fill="url(#gH)"/><circle cx="1793.7" cy="743" r="6" fill="url(#gH)"/><circle cx="1710.2" cy="795.8" r="6" fill="url(#gH)"/><circle cx="1723.7" cy="795.8" r="6" fill="url(#gH)"/><circle cx="1747.7" cy="785.2" r="6" fill="url(#gH)"/><circle cx="1686.2" cy="561.7" r="6" fill="url(#gH)"/><circle cx="1754.4" cy="560.7" r="6" fill="url(#gH)"/><circle cx="1653.6" cy="621.2" r="6" fill="url(#gH)"/><circle cx="1785.1" cy="619.2" r="6" fill="url(#gH)"/><circle cx="1573" cy="848.6" r="6" fill="url(#gH)"/><circle cx="1860.9" cy="806.3" r="6" fill="url(#gH)"/><circle cx="1649.8" cy="826.5" r="4" fill="url(#gB)"/><circle cx="1788" cy="826.5" r="4" fill="url(#gB)"/><circle cx="1646.9" cy="811.1" r="11" fill="url(#gS)"/><circle cx="1788.9" cy="811.1" r="11" fill="url(#gS)"/><circle cx="1594.1" cy="795.8" r="10" fill="url(#gO)"/><circle cx="1591.3" cy="839" r="10" fill="url(#gO)"/><circle cx="1839.8" cy="790" r="10" fill="url(#gO)"/><circle cx="1846.5" cy="837" r="10" fill="url(#gO)"/>
<path d="M1698.9,923.9 L1740.7,923.9 M1698.9,923.9 L1684.2,958.4 M1740.7,923.9 L1755.3,958.4 M1684.2,958.4 L1703,990.8 M1755.3,958.4 L1738.6,990.8 M1703,990.8 L1738.6,990.8 M1698.9,923.9 L1690.5,900.9 M1740.7,923.9 L1754.3,900.9 M1684.2,958.4 L1657,959.4 M1755.3,958.4 L1784.6,958.4 M1703,990.8 L1695,1010 M1738.6,990.8 L1746,1010 M1662,1020 L1674,1020 M1767,1020 L1779,1020 M1603,1105 L1590,1115 M1610,1150 L1602,1165 M1600.6,1174.7 L1577.6,1181 M1840,1105 L1852,1112 M1864,1115 L1884,1128 M1835,1150 L1840,1160 M1655,1140 L1665,1145 M1790,1140 L1775,1145 M1700,1140 L1712,1125 M1745,1140 L1735,1125" stroke="#5a5a5a" stroke-width="2.6" fill="none" stroke-linecap="round"/><circle cx="1724" cy="1116" r="15" fill="url(#gG)" stroke="#4a3c10" stroke-opacity="0.55" stroke-width="1.3"/><circle cx="1711.4" cy="1126.7" r="12" fill="url(#gB)" stroke="#0e1a55" stroke-opacity="0.55" stroke-width="1.3"/><ellipse cx="1721.8" cy="924.4" rx="25" ry="10" fill="url(#gG)" stroke="#4a3c10" stroke-opacity="0.55" stroke-width="1.3"/><ellipse cx="1686.4" cy="963.6" rx="12.5" ry="16" fill="url(#gB)" transform="rotate(-30 1686.4 963.6)" stroke="#0e1a55" stroke-opacity="0.55" stroke-width="1.3"/><circle cx="1702" cy="986" r="10" fill="url(#gB)"/><circle cx="1756.3" cy="958.4" r="11.5" fill="url(#gB)" stroke="#0e1a55" stroke-opacity="0.55" stroke-width="1.3"/><circle cx="1739.6" cy="986.6" r="9" fill="url(#gB)"/><circle cx="1698.9" cy="923.9" r="7" fill="url(#gC)"/><circle cx="1740.7" cy="923.9" r="7" fill="url(#gC)"/><circle cx="1648.7" cy="1020" r="14" fill="url(#gP)"/><circle cx="1792.9" cy="1020" r="14" fill="url(#gP)"/><ellipse cx="1669.6" cy="1091.7" rx="35.5" ry="25.6" fill="url(#gB)" transform="rotate(15 1669.6 1091.7)" stroke="#0e1a55" stroke-opacity="0.55" stroke-width="1.3"/><ellipse cx="1771" cy="1088.6" rx="35.5" ry="26.6" fill="url(#gB)" transform="rotate(-15 1771 1088.6)" stroke="#0e1a55" stroke-opacity="0.55" stroke-width="1.3"/><path d="M1672,1022 C1676,1006 1700,1006 1720,1016 C1740,1006 1764,1004 1768,1020 C1771,1042 1757,1068 1720,1068 C1688,1068 1669,1045 1672,1022 Z" fill="url(#gG)" stroke="#4a3c10" stroke-opacity="0.55" stroke-width="1.3"/><ellipse cx="1625.2" cy="1129.8" rx="33" ry="24" fill="url(#gG)" transform="rotate(-10 1625.2 1129.8)" stroke="#4a3c10" stroke-opacity="0.55" stroke-width="1.3"/><ellipse cx="1816" cy="1129.8" rx="32.5" ry="25" fill="url(#gG)" transform="rotate(15 1816 1129.8)" stroke="#4a3c10" stroke-opacity="0.55" stroke-width="1.3"/><ellipse cx="1576.6" cy="1118.3" rx="15.7" ry="16.7" fill="url(#gB)" stroke="#0e1a55" stroke-opacity="0.55" stroke-width="1.3"/><circle cx="1574" cy="1118" r="7" fill="url(#gP)"/><circle cx="1864" cy="1115.2" r="12.5" fill="url(#gP)"/><circle cx="1600.6" cy="1174.7" r="11.5" fill="url(#gP)"/><ellipse cx="1843.1" cy="1174.2" rx="16.7" ry="16.2" fill="url(#gB)" stroke="#0e1a55" stroke-opacity="0.55" stroke-width="1.3"/><circle cx="1843" cy="1173" r="7" fill="url(#gP)"/><ellipse cx="1678.5" cy="1154.8" rx="20.4" ry="24" fill="url(#gB)" stroke="#0e1a55" stroke-opacity="0.55" stroke-width="1.3"/><ellipse cx="1761" cy="1154.9" rx="19.3" ry="23" fill="url(#gB)" stroke="#0e1a55" stroke-opacity="0.55" stroke-width="1.3"/><circle cx="1690.5" cy="900.9" r="6" fill="url(#gH)"/><circle cx="1754.3" cy="900.9" r="6" fill="url(#gH)"/><circle cx="1657" cy="959.4" r="6" fill="url(#gH)"/><circle cx="1784.6" cy="958.4" r="6" fill="url(#gH)"/><circle cx="1628.8" cy="1070.2" r="6" fill="url(#gH)"/><circle cx="1812.8" cy="1070.2" r="6" fill="url(#gH)"/><circle cx="1883.9" cy="1127.7" r="6" fill="url(#gH)"/><circle cx="1577.6" cy="1181" r="6" fill="url(#gH)"/><circle cx="1753.2" cy="1117.3" r="6" fill="url(#gH)"/><circle cx="1715.6" cy="1145.5" r="6" fill="url(#gH)"/><circle cx="1728" cy="1143.4" r="6" fill="url(#gH)"/>
<text x="129.54" y="70.50" style="font-family:'Liberation Sans',Arial,Helvetica,sans-serif;font-size:52px" fill="#111">3.5 10</text><text x="274.11" y="42.30" style="font-family:'Liberation Sans',Arial,Helvetica,sans-serif;font-size:33px" fill="#111">4</text>
<text x="172.91" y="289.76" style="font-family:'Liberation Sans',Arial,Helvetica,sans-serif;font-size:52px" fill="#111">3 10</text><text x="274.11" y="261.56" style="font-family:'Liberation Sans',Arial,Helvetica,sans-serif;font-size:33px" fill="#111">4</text>
<text x="129.54" y="509.01" style="font-family:'Liberation Sans',Arial,Helvetica,sans-serif;font-size:52px" fill="#111">2.5 10</text><text x="274.11" y="480.81" style="font-family:'Liberation Sans',Arial,Helvetica,sans-serif;font-size:33px" fill="#111">4</text>
<text x="172.91" y="728.27" style="font-family:'Liberation Sans',Arial,Helvetica,sans-serif;font-size:52px" fill="#111">2 10</text><text x="274.11" y="700.07" style="font-family:'Liberation Sans',Arial,Helvetica,sans-serif;font-size:33px" fill="#111">4</text>
<text x="129.54" y="947.53" style="font-family:'Liberation Sans',Arial,Helvetica,sans-serif;font-size:52px" fill="#111">1.5 10</text><text x="274.11" y="919.33" style="font-family:'Liberation Sans',Arial,Helvetica,sans-serif;font-size:33px" fill="#111">4</text>
<text x="172.91" y="1166.79" style="font-family:'Liberation Sans',Arial,Helvetica,sans-serif;font-size:52px" fill="#111">1 10</text><text x="274.11" y="1138.59" style="font-family:'Liberation Sans',Arial,Helvetica,sans-serif;font-size:33px" fill="#111">4</text>
<text x="177.25" y="1386.04" style="font-family:'Liberation Sans',Arial,Helvetica,sans-serif;font-size:52px" fill="#111">5000</text>
<text x="264.01" y="1605.30" style="font-family:'Liberation Sans',Arial,Helvetica,sans-serif;font-size:52px" fill="#111">0</text>
<text x="331.9" y="1666.3" text-anchor="middle" style="font-family:'Liberation Sans',Arial,Helvetica,sans-serif;font-size:52px" fill="#111">300</text>
<text x="591.8" y="1666.3" text-anchor="middle" style="font-family:'Liberation Sans',Arial,Helvetica,sans-serif;font-size:52px" fill="#111">400</text>
<text x="851.6" y="1666.3" text-anchor="middle" style="font-family:'Liberation Sans',Arial,Helvetica,sans-serif;font-size:52px" fill="#111">500</text>
<text x="1111.5" y="1666.3" text-anchor="middle" style="font-family:'Liberation Sans',Arial,Helvetica,sans-serif;font-size:52px" fill="#111">600</text>
<text x="1371.4" y="1666.3" text-anchor="middle" style="font-family:'Liberation Sans',Arial,Helvetica,sans-serif;font-size:52px" fill="#111">700</text>
<text x="1631.2" y="1666.3" text-anchor="middle" style="font-family:'Liberation Sans',Arial,Helvetica,sans-serif;font-size:52px" fill="#111">800</text>
<text x="1891.1" y="1666.3" text-anchor="middle" style="font-family:'Liberation Sans',Arial,Helvetica,sans-serif;font-size:52px" fill="#111">900</text>
<text x="1113.8" y="1730.3" text-anchor="middle" style="font-family:'Liberation Sans',Arial,Helvetica,sans-serif;font-size:60.3px" fill="#111">wavelength (nm)</text>
<g transform="translate(85.8 0) rotate(-90)"><text x="-976.57" y="-1.80" style="font-family:'Liberation Sans',Arial,Helvetica,sans-serif;font-size:49px" fill="#111">ε</text><text x="-932.78" y="0.00" style="font-family:'Liberation Sans',Arial,Helvetica,sans-serif;font-size:61px" fill="#111">(</text><text x="-916.40" y="0.00" style="font-family:'Liberation Sans',Arial,Helvetica,sans-serif;font-size:61px" fill="#111">M</text><text x="-863.13" y="-37.30" style="font-family:'Liberation Sans',Arial,Helvetica,sans-serif;font-size:34.5px" fill="#111">-1</text><text x="-811.59" y="0.00" style="font-family:'Liberation Sans',Arial,Helvetica,sans-serif;font-size:61px" fill="#111">cm</text><text x="-732.53" y="-37.30" style="font-family:'Liberation Sans',Arial,Helvetica,sans-serif;font-size:34.5px" fill="#111">-1</text><text x="-694.96" y="0.00" style="font-family:'Liberation Sans',Arial,Helvetica,sans-serif;font-size:61px" fill="#111">)</text></g>
<path d="M702,226.3 L822,296.6" stroke="#0a0a0a" stroke-width="5.5" stroke-linecap="round"/>
<text x="822.40" y="242.50" style="font-family:'Liberation Sans',Arial,Helvetica,sans-serif;font-size:61px" fill="#111">H</text>
<text x="832.40" y="700.00" style="font-family:'Liberation Sans',Arial,Helvetica,sans-serif;font-size:61px" fill="#111">H</text>
<text x="860.60" y="1036.30" style="font-family:'Liberation Sans',Arial,Helvetica,sans-serif;font-size:61px" fill="#111">H</text>
<text x="1833.96" y="699.80" style="font-family:'Liberation Sans',Arial,Helvetica,sans-serif;font-size:59px" fill="#111">L</text>
<text x="1841.16" y="1034.70" style="font-family:'Liberation Sans',Arial,Helvetica,sans-serif;font-size:59px" fill="#111">L</text>
<text x="1791.46" y="246.40" style="font-family:'Liberation Sans',Arial,Helvetica,sans-serif;font-size:59px" fill="#111">L</text>
<text x="1823.73" y="252.25" style="font-family:'Liberation Sans',Arial,Helvetica,sans-serif;font-size:63px" fill="#111">+</text>
<text x="1854.29" y="246.40" style="font-family:'Liberation Sans',Arial,Helvetica,sans-serif;font-size:59px" fill="#111">1</text>
<text x="1170.07" y="278.00" style="font-family:'Liberation Sans',Arial,Helvetica,sans-serif;font-size:63px" fill="#111">λ</text><text x="1202.94" y="293.50" style="font-family:'Liberation Sans',Arial,Helvetica,sans-serif;font-size:38.5px" fill="#111">max</text><text x="1290.99" y="277.70" style="font-family:'Liberation Sans',Arial,Helvetica,sans-serif;font-size:57.6px" fill="#111">= 427 nm</text>
<text x="1168.07" y="667.30" style="font-family:'Liberation Sans',Arial,Helvetica,sans-serif;font-size:63px" fill="#111">λ</text><text x="1201.25" y="683.20" style="font-family:'Liberation Sans',Arial,Helvetica,sans-serif;font-size:38.4px" fill="#111">max</text><text x="1287.90" y="666.80" style="font-family:'Liberation Sans',Arial,Helvetica,sans-serif;font-size:57.4px" fill="#111">= 395 nm</text>
<text x="1203.97" y="1005.00" style="font-family:'Liberation Sans',Arial,Helvetica,sans-serif;font-size:63px" fill="#111">λ</text><text x="1236.82" y="1020.10" style="font-family:'Liberation Sans',Arial,Helvetica,sans-serif;font-size:37.4px" fill="#111">max</text><text x="1321.74" y="1004.70" style="font-family:'Liberation Sans',Arial,Helvetica,sans-serif;font-size:56.5px" fill="#111">= 603 nm</text>
<path d="M1264,320.2 H1413" stroke="#4a82d2" stroke-width="5"/><path d="M1411,307.7 L1434.5,320.2 L1411,332.7 Z" fill="#4a82d2"/>
<path d="M1264,708.9 H1412.5" stroke="#4a82d2" stroke-width="5"/><path d="M1410.5,696.4 L1435,708.9 L1410.5,721.4 Z" fill="#4a82d2"/>
<path d="M1305,1048.9 H1448.8" stroke="#4a82d2" stroke-width="5"/><path d="M1446.8,1036.4 L1471,1048.9 L1446.8,1061.4 Z" fill="#4a82d2"/>
<path d="M1542.3,1273.3 H1698.3" stroke="#f00a14" stroke-width="7.5" stroke-dasharray="21 13"/>
<path d="M1542.3,1329.8 H1698.3" stroke="#2a55f5" stroke-width="7.5" stroke-dasharray="21 13"/>
<path d="M1542.3,1386.8 H1698.3" stroke="#0a0a0a" stroke-width="7.2"/>
<path d="M1542.3,1444 H1698.3" stroke="#008000" stroke-width="8.6"/>
<text transform="translate(1711.20 1291.6) scale(0.906 1)" style="font-family:'Liberation Sans',Arial,Helvetica,sans-serif;font-size:53px;font-weight:bold" fill="#f00a14">3a</text>
<text transform="translate(1711.21 1347.9) scale(0.900 1)" style="font-family:'Liberation Sans',Arial,Helvetica,sans-serif;font-size:53px;font-weight:bold" fill="#2a55f5">3b</text>
<text transform="translate(1709.16 1405.4) scale(0.940 1)" style="font-family:'Liberation Sans',Arial,Helvetica,sans-serif;font-size:53px;font-weight:bold" fill="#0a0a0a">1a</text>
<text transform="translate(1709.18 1462.2) scale(0.934 1)" style="font-family:'Liberation Sans',Arial,Helvetica,sans-serif;font-size:53px;font-weight:bold" fill="#008000">1b</text></svg>
</body></html>
